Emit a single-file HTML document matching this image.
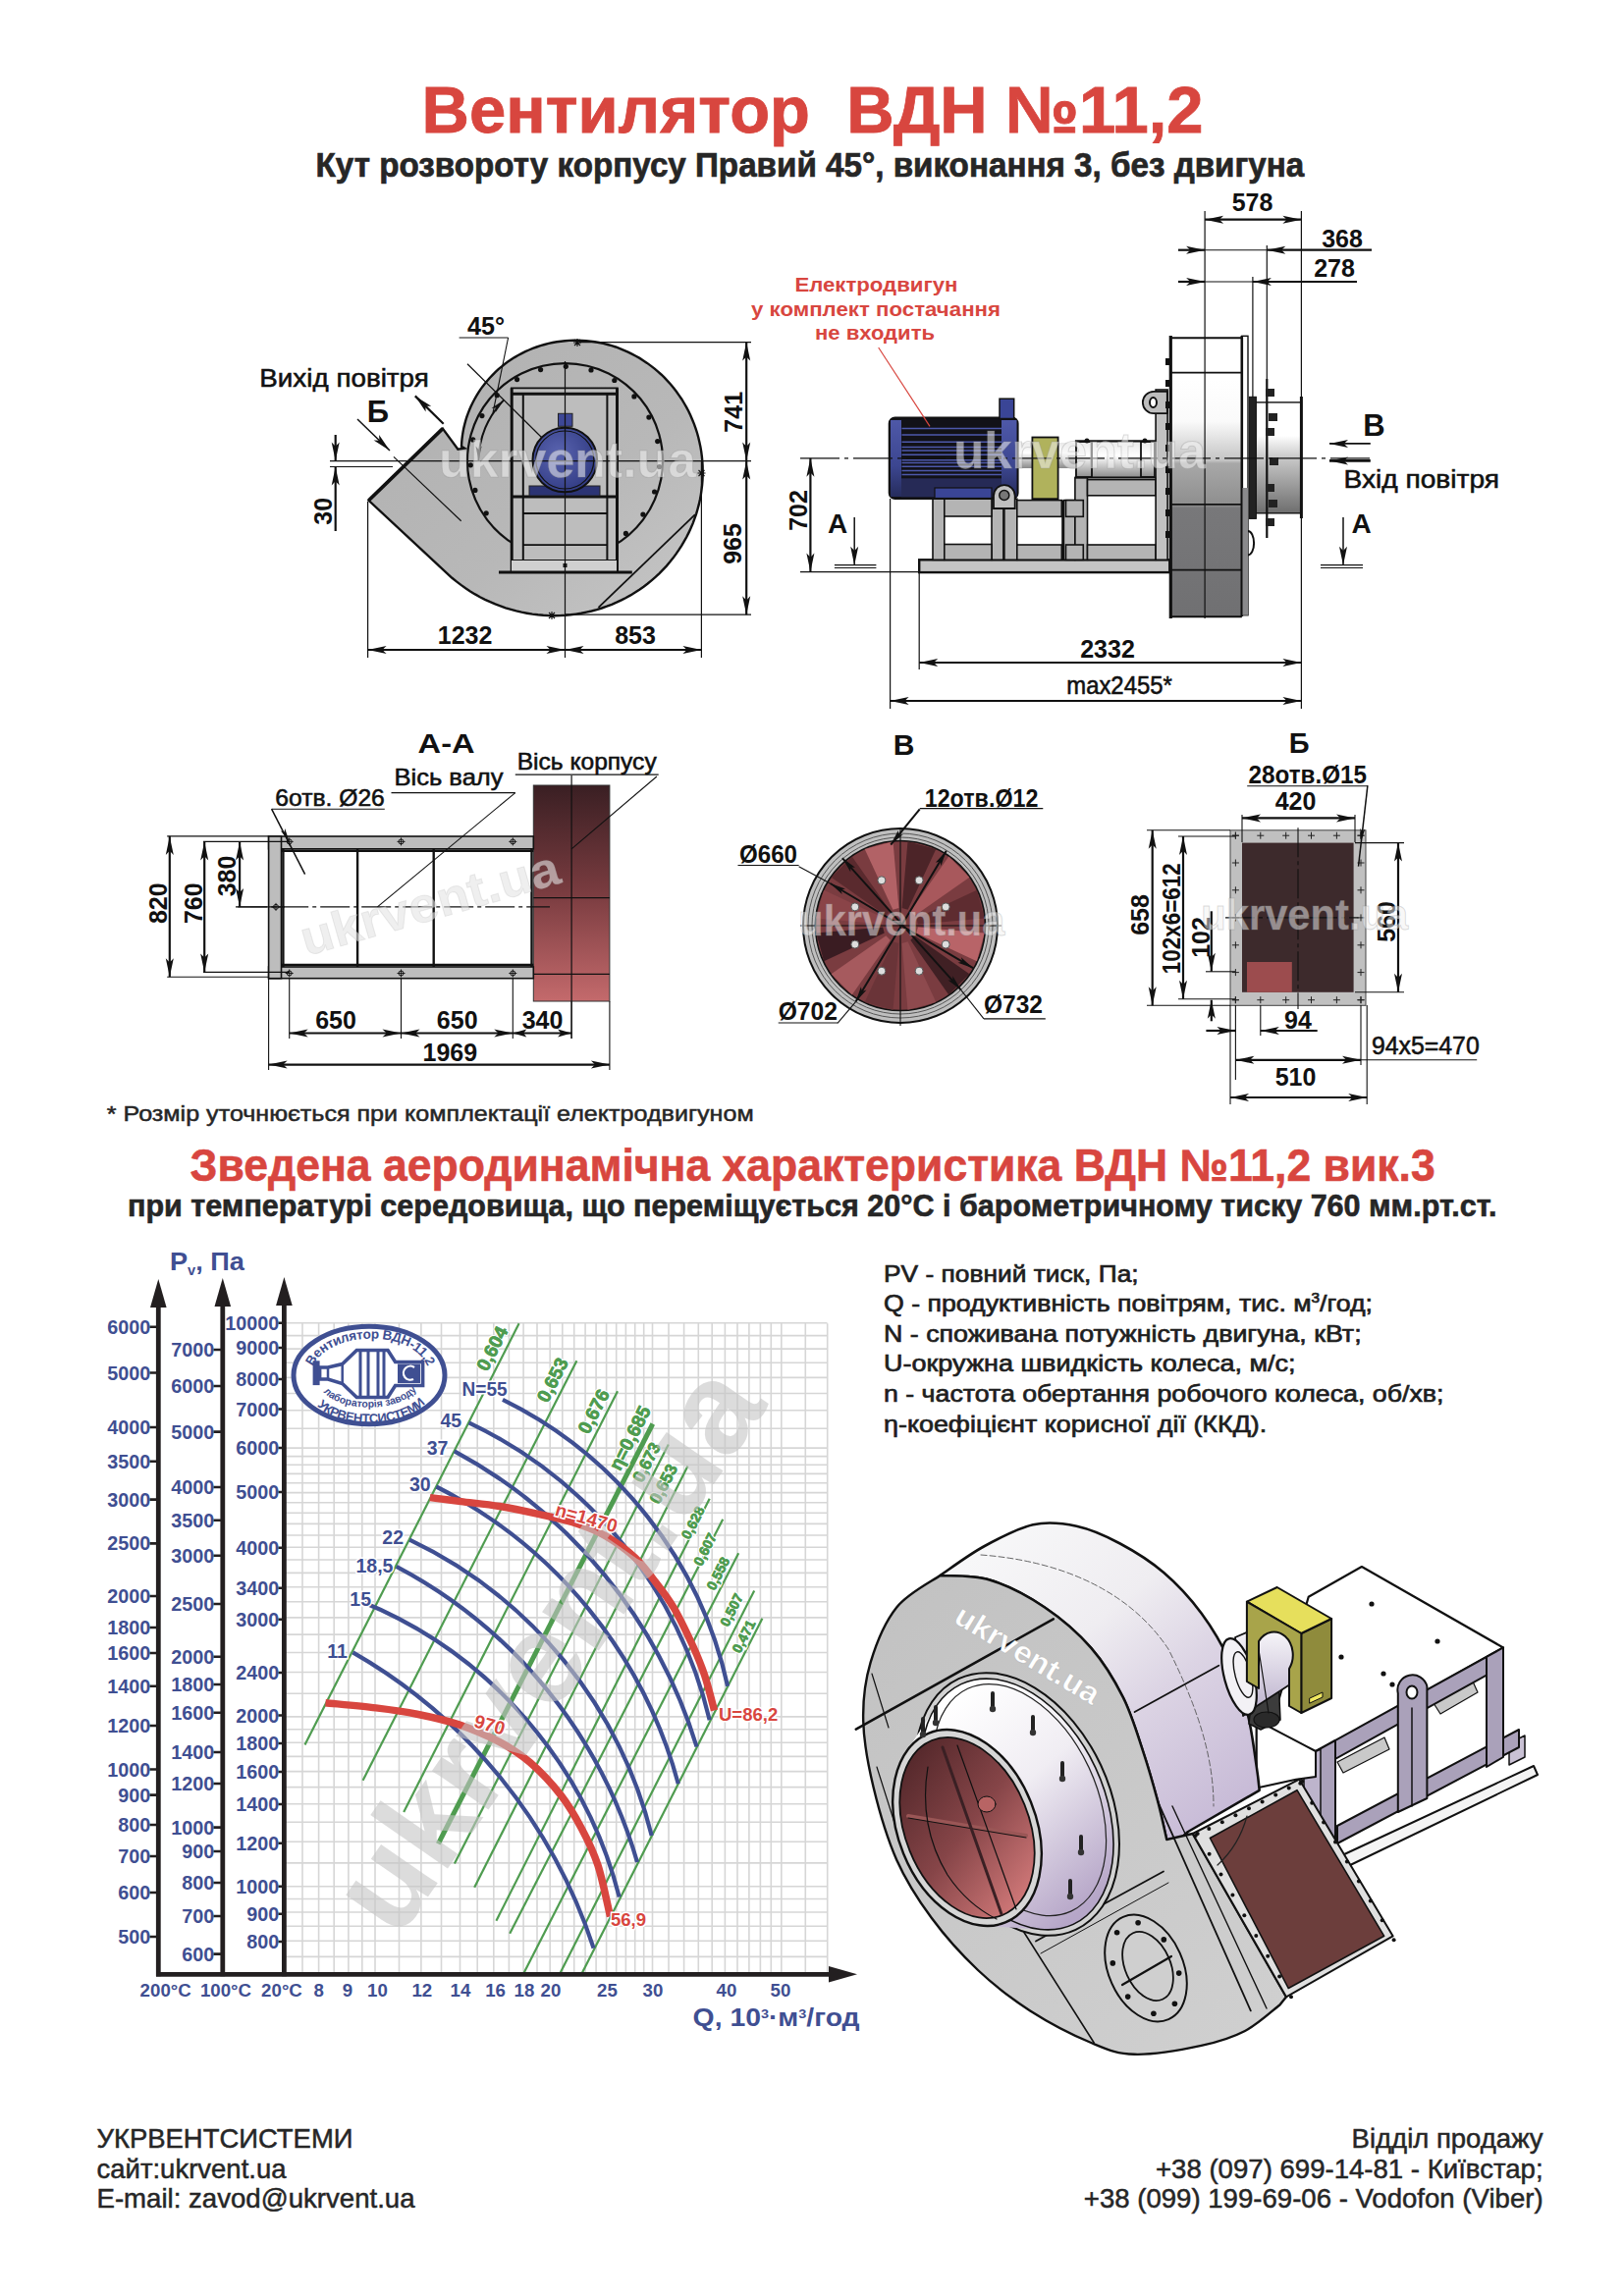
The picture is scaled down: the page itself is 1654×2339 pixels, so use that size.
<!DOCTYPE html>
<html><head><meta charset="utf-8"><title>ВДН №11,2</title>
<style>html,body{margin:0;padding:0;background:#fff;overflow:hidden;width:1654px;height:2339px;} svg{display:block;font-family:"Liberation Sans", sans-serif;}</style>
</head><body>
<svg width="1654" height="2339" viewBox="0 0 1654 2339">
<rect width="1654" height="2339" fill="#fff"/>
<g id="r3d" stroke-linejoin="round" stroke-linecap="round">
<defs>
<linearGradient id="gSide" gradientUnits="userSpaceOnUse" x1="1010" y1="1570" x2="1250" y2="1860"><stop offset="0" stop-color="#f7f7f8"/><stop offset="0.35" stop-color="#efedf1"/><stop offset="0.6" stop-color="#dcd4e4"/><stop offset="1" stop-color="#c6b9d6"/></linearGradient>
<linearGradient id="gFace" gradientUnits="userSpaceOnUse" x1="900" y1="1620" x2="1250" y2="2080"><stop offset="0" stop-color="#c2c2c2"/><stop offset="1" stop-color="#cfcfcf"/></linearGradient>
<linearGradient id="gCyl" gradientUnits="userSpaceOnUse" x1="960" y1="1740" x2="1120" y2="1930"><stop offset="0" stop-color="#ffffff"/><stop offset="0.45" stop-color="#f0edf3"/><stop offset="1" stop-color="#b6a6c8"/></linearGradient>
<linearGradient id="gInR" gradientUnits="userSpaceOnUse" x1="930" y1="1780" x2="1030" y2="1950"><stop offset="0" stop-color="#512629"/><stop offset="0.5" stop-color="#864548"/><stop offset="1" stop-color="#d67c7c"/></linearGradient>
<linearGradient id="gShaft3" x1="0" y1="0" x2="0" y2="1"><stop offset="0" stop-color="#ffffff"/><stop offset="1" stop-color="#b9aecb"/></linearGradient>
</defs>
<path d="M1367.0,1890.0 L1562.0,1799.0 L1566.0,1808.0 L1371.0,1902.0 Z" fill="#f4f4f4" stroke="#111" stroke-width="2"/>
<path d="M1537.0,1776.0 L1553.0,1768.0 L1553.0,1790.0 L1537.0,1798.0 Z" fill="#c9c1d4" stroke="#111" stroke-width="1.5"/>
<path d="M1460.0,1735.0 L1500.0,1713.0 L1505.0,1724.0 L1467.0,1746.0 Z" fill="#c9c9c9" stroke="#111" stroke-width="1.2"/>
<path d="M1362.0,1795.0 L1410.0,1770.0 L1415.0,1782.0 L1368.0,1806.0 Z" fill="#c9c9c9" stroke="#111" stroke-width="1.2"/>
<path d="M1332.7,1626.8 L1386.9,1596.0 L1531.0,1678.5 L1343.8,1784.0 L1279.8,1796.7 L1279.8,1752.4 L1300.0,1740.0 Z" fill="#ffffff" stroke="#111" stroke-width="2.2"/>
<path d="M1362.0,1860.0 L1547.0,1762.0 L1547.0,1780.0 L1362.0,1878.0 Z" fill="#aaa1ba" stroke="#111" stroke-width="2"/>
<path d="M1340.0,1784.0 L1531.0,1678.5 L1531.0,1697.0 L1340.0,1803.0 Z" fill="#aaa1ba" stroke="#111" stroke-width="2"/>
<path d="M1514.0,1688.0 L1531.0,1678.5 L1531.0,1790.0 L1514.0,1800.0 Z" fill="#aaa1ba" stroke="#111" stroke-width="2"/>
<path d="M1340.0,1784.0 L1360.0,1773.0 L1360.0,1880.0 L1340.0,1890.0 Z" fill="#aaa1ba" stroke="#111" stroke-width="2"/>
<path d="M1328.0,1790.0 L1345.0,1782.0 L1345.0,1880.0 L1328.0,1890.0 Z" fill="#bdb4cc" stroke="#111" stroke-width="1.5"/>
<path d="M1423.8,1846 V1725 A14.8,14.8 0 0 1 1453.4,1718 V1832 Z" fill="#aaa1ba" stroke="#111" stroke-width="2"/>
<ellipse cx="1438" cy="1724" rx="5.5" ry="6.5" fill="#fff" stroke="#111" stroke-width="2"/>
<line x1="1438.0" y1="1740.0" x2="1438.0" y2="1840.0" stroke="#111" stroke-width="1.5"/>
<circle cx="1397" cy="1634" r="2.6" fill="#111"/><circle cx="1464" cy="1672" r="2.6" fill="#111"/><circle cx="1409" cy="1705" r="2.6" fill="#111"/><circle cx="1418" cy="1716" r="2.6" fill="#111"/><circle cx="1366" cy="1688" r="2.6" fill="#111"/>
<path d="M1279.8,1752.4 L1340.0,1784.0 L1340.0,1810.0 L1320.0,1812.7 L1279.8,1821.4 Z" fill="#ffffff" stroke="#111" stroke-width="2"/>
<path d="M957.5,1605.0 C964.9,1600.1 986.1,1584.1 1001.9,1575.5 C1017.7,1566.9 1036.3,1556.8 1052.1,1553.3 C1067.9,1549.8 1081.7,1551.6 1096.5,1554.8 C1111.3,1558.0 1126.0,1564.6 1140.8,1572.5 C1155.6,1580.4 1171.4,1590.2 1185.2,1602.0 C1199.0,1613.8 1212.3,1628.2 1223.6,1643.5 C1234.9,1658.8 1245.2,1676.5 1253.1,1693.7 C1261.0,1711.0 1266.5,1729.3 1270.9,1747.0 C1275.4,1764.7 1277.8,1787.3 1279.8,1800.1 C1281.8,1812.9 1282.2,1819.8 1282.7,1823.8 L1210,1866 Q1196,1880 1188.2,1874 L1188.2,1874.0 C1186.7,1867.6 1183.2,1850.4 1179.3,1835.6 C1175.3,1820.8 1170.4,1803.0 1164.5,1785.3 C1158.6,1767.6 1152.7,1746.9 1143.8,1729.2 C1134.9,1711.5 1124.6,1694.2 1111.3,1678.9 C1098.0,1663.6 1081.2,1649.1 1064.0,1637.5 C1046.8,1625.9 1025.5,1614.9 1007.8,1609.5 C990.0,1604.1 965.9,1605.8 957.5,1605.0 Z" fill="url(#gSide)" stroke="#111" stroke-width="2.6"/>
<path d="M999,1584 C1080,1590 1150,1620 1190,1680 C1220,1740 1236,1790 1236,1840" fill="none" stroke="#555" stroke-width="0.9" stroke-dasharray="6,3"/>
<line x1="1155.6" y1="1744.0" x2="1241.3" y2="1696.7" stroke="#111" stroke-width="1.8"/>
<path d="M1276.0,1718.0 L1302.0,1708.0 L1304.0,1752.0 L1284.0,1762.0 L1272.0,1756.0 Z" fill="#3c3c3c" stroke="#111" stroke-width="1.5"/>
<ellipse cx="1290" cy="1752" rx="13" ry="8" fill="#2a2a2a" stroke="#111" stroke-width="1.2"/>
<path d="M1258,1668 L1300,1650 L1322,1668 L1320,1712 L1280,1738 L1266,1748 Z" fill="url(#gShaft3)" stroke="#111" stroke-width="1.8"/>
<ellipse cx="1262" cy="1708" rx="15" ry="40" transform="rotate(-15 1262 1708)" fill="#f3f1f5" stroke="#111" stroke-width="2.2"/>
<ellipse cx="1266" cy="1706" rx="8" ry="24" transform="rotate(-15 1266 1706)" fill="none" stroke="#111" stroke-width="1.4"/>
<line x1="1280.0" y1="1668.0" x2="1292.0" y2="1745.0" stroke="#111" stroke-width="1.2"/>
<path d="M1325.3,1664.0 L1356.1,1649.0 L1356.1,1730.0 L1325.3,1745.0 Z" fill="#8f8b3c" stroke="#111" stroke-width="2"/>
<path d="M1269.9,1631.7 L1300.7,1617.0 L1356.1,1649.0 L1325.3,1664.0 Z" fill="#e6df5c" stroke="#111" stroke-width="2"/>
<path d="M1269.9,1631.7 L1325.3,1664 V1745 L1313,1738 V1700 A18,22 0 0 0 1282,1672 V1720 L1269.9,1713 Z" fill="#a8a44a" stroke="#111" stroke-width="2"/>
<path d="M1334.0,1730.0 L1347.0,1724.0 L1347.0,1729.0 L1334.0,1735.0 Z" fill="#f0e860" stroke="#111" stroke-width="1"/>
<path d="M957.5,1605.0 C950.1,1610.4 925.0,1622.7 913.2,1637.5 C901.4,1652.3 892.3,1674.5 886.6,1693.7 C880.9,1712.9 878.7,1731.6 879.2,1752.8 C879.7,1774.0 883.9,1797.1 889.6,1820.8 C895.3,1844.5 903.4,1872.5 913.2,1894.7 C923.1,1916.9 934.9,1935.1 948.7,1953.8 C962.5,1972.5 979.2,1991.2 996.0,2007.0 C1012.8,2022.8 1030.0,2036.1 1049.2,2048.4 C1068.4,2060.7 1093.6,2073.6 1111.3,2081.0 C1129.0,2088.4 1136.9,2092.3 1155.6,2092.8 C1174.3,2093.3 1204.9,2087.9 1223.6,2083.9 C1242.3,2079.9 1254.7,2075.9 1268.0,2069.0 C1281.3,2062.1 1297.5,2046.9 1303.4,2042.5 L1310,2034.3 L1214.7,1868 L1188.2,1874 L1188.2,1874.0 C1186.7,1867.6 1183.2,1850.4 1179.3,1835.6 C1175.3,1820.8 1170.4,1803.0 1164.5,1785.3 C1158.6,1767.6 1152.7,1746.9 1143.8,1729.2 C1134.9,1711.5 1124.6,1694.2 1111.3,1678.9 C1098.0,1663.6 1081.2,1649.1 1064.0,1637.5 C1046.8,1625.9 1025.5,1614.9 1007.8,1609.5 C990.0,1604.1 965.9,1605.8 957.5,1605.0 Z" fill="url(#gFace)" stroke="#111" stroke-width="2.4"/>
<path d="M1214.7,1868.0 L1323.3,1812.7 L1418.6,1972.3 L1310.0,2034.3 Z" fill="#e0e0e0" stroke="#111" stroke-width="2"/>
<path d="M1232.4,1872.5 L1321.0,1823.7 L1409.7,1972.3 L1312.2,2025.5 Z" fill="#6c3e3c" stroke="#111" stroke-width="1.6"/>
<path d="M1240,1900 Q1262,1880 1270,1850" fill="none" stroke="#222" stroke-width="1.2"/>
<g fill="#111"><circle cx="1217.7" cy="1870.0" r="2"/><circle cx="1219.7" cy="1868.0" r="2"/><circle cx="1324.3" cy="1816.7" r="2"/><circle cx="1231.3" cy="1863.1" r="2"/><circle cx="1231.6" cy="1888.8" r="2"/><circle cx="1336.2" cy="1836.7" r="2"/><circle cx="1244.8" cy="1856.2" r="2"/><circle cx="1243.5" cy="1909.6" r="2"/><circle cx="1348.1" cy="1856.6" r="2"/><circle cx="1258.4" cy="1849.3" r="2"/><circle cx="1255.4" cy="1930.4" r="2"/><circle cx="1360.0" cy="1876.5" r="2"/><circle cx="1272.0" cy="1842.3" r="2"/><circle cx="1267.3" cy="1951.2" r="2"/><circle cx="1371.9" cy="1896.5" r="2"/><circle cx="1285.6" cy="1835.4" r="2"/><circle cx="1279.3" cy="1971.9" r="2"/><circle cx="1383.9" cy="1916.5" r="2"/><circle cx="1299.2" cy="1828.5" r="2"/><circle cx="1291.2" cy="1992.7" r="2"/><circle cx="1395.8" cy="1936.4" r="2"/><circle cx="1312.7" cy="1821.6" r="2"/><circle cx="1303.1" cy="2013.5" r="2"/><circle cx="1407.7" cy="1956.3" r="2"/><circle cx="1326.3" cy="1814.7" r="2"/><circle cx="1315.0" cy="2034.3" r="2"/><circle cx="1419.6" cy="1976.3" r="2"/></g>
<line x1="871.8" y1="1761.7" x2="1072.8" y2="1649.4" stroke="#111" stroke-width="2.6"/>
<line x1="1179.3" y1="1835.6" x2="1273.8" y2="2048.4" stroke="#111" stroke-width="1.8"/>
<line x1="1194.0" y1="1840.0" x2="1290.0" y2="2046.0" stroke="#111" stroke-width="1.4"/>
<line x1="1037.4" y1="1959.7" x2="1114.2" y2="2081.0" stroke="#111" stroke-width="1.6"/>
<line x1="1055.0" y1="1977.5" x2="1185.0" y2="1906.5" stroke="#111" stroke-width="1.8"/>
<line x1="1060.0" y1="1990.0" x2="1190.0" y2="1918.0" stroke="#111" stroke-width="1.0"/>
<line x1="888.0" y1="1705.0" x2="905.0" y2="1760.0" stroke="#111" stroke-width="1.2"/>
<line x1="893.0" y1="1800.0" x2="912.0" y2="1860.0" stroke="#111" stroke-width="1.2"/>
<ellipse cx="1167" cy="2005" rx="38" ry="57" transform="rotate(-24 1167 2005)" fill="#cfcfcf" stroke="#111" stroke-width="2"/>
<ellipse cx="1169" cy="2003" rx="23" ry="37" transform="rotate(-24 1169 2003)" fill="none" stroke="#111" stroke-width="1.8"/>
<line x1="1143.0" y1="2022.0" x2="1193.0" y2="1993.0" stroke="#111" stroke-width="2.2"/>
<circle cx="1200.7" cy="2010.1" r="2.8" fill="#111"/><circle cx="1196.4" cy="2041.3" r="2.8" fill="#111"/><circle cx="1174.9" cy="2051.2" r="2.8" fill="#111"/><circle cx="1148.7" cy="2034.1" r="2.8" fill="#111"/><circle cx="1133.3" cy="1999.9" r="2.8" fill="#111"/><circle cx="1137.6" cy="1968.7" r="2.8" fill="#111"/><circle cx="1159.1" cy="1958.8" r="2.8" fill="#111"/><circle cx="1185.3" cy="1975.9" r="2.8" fill="#111"/>
<ellipse cx="1036" cy="1838" rx="94" ry="141" transform="rotate(-25 1036 1838)" fill="#d2d2d2" stroke="#111" stroke-width="2"/>
<path d="M909.3,1836.5 L909.5,1828.2 L910.2,1820.1 L911.6,1812.4 L913.4,1805.0 L915.9,1798.1 L918.8,1791.6 L922.3,1785.7 L955.1,1735.7 L960.2,1729.4 L966.0,1724.0 L972.2,1719.4 L978.9,1715.6 L986.1,1712.9 L993.7,1711.0 L1001.5,1710.2 L1009.7,1710.3 L1018.0,1711.4 L1026.5,1713.4 L1035.0,1716.4 L1043.6,1720.4 L1052.1,1725.2 L1060.4,1730.9 L1068.6,1737.4 L1076.5,1744.6 L1084.2,1752.6 L1091.4,1761.2 L1098.3,1770.4 L1104.6,1780.1 L1110.5,1790.3 L1115.8,1800.8 L1120.4,1811.6 L1124.5,1822.6 L1127.8,1833.7 L1130.5,1844.9 L1132.4,1856.0 L1133.6,1867.0 L1134.1,1877.7 L1133.8,1888.2 L1132.7,1898.2 L1131.0,1907.8 L1128.5,1916.9 L1125.3,1925.4 L1121.4,1933.2 L1116.9,1940.3 L1111.8,1946.6 L1106.0,1952.0 L1099.8,1956.6 L1093.1,1960.4 L1085.9,1963.1 L1078.3,1965.0 L1070.5,1965.8 L1062.3,1965.7 L999.4,1961.6 L992.9,1960.5 L986.3,1958.6 L979.7,1956.0 L973.1,1952.7 L966.7,1948.7 L960.3,1944.1 L954.2,1938.8 L948.3,1932.9 L942.6,1926.5 L937.3,1919.6 L932.4,1912.3 L927.8,1904.6 L923.7,1896.5 L920.1,1888.2 L916.9,1879.7 L914.3,1871.1 L912.2,1862.4 L910.7,1853.7 L909.7,1845.0 Z" fill="url(#gCyl)" stroke="none" stroke-width="0"/>
<ellipse cx="1036" cy="1838" rx="88" ry="135" transform="rotate(-25 1036 1838)" fill="none" stroke="#111" stroke-width="1.6"/>
<ellipse cx="1040" cy="1835" rx="78" ry="125" transform="rotate(-25 1036 1838)" fill="none" stroke="#222" stroke-width="1.2"/>
<ellipse cx="985" cy="1862" rx="70" ry="104" transform="rotate(-22 985 1862)" fill="#d6d6d6" stroke="#111" stroke-width="2.4"/>
<ellipse cx="985" cy="1862" rx="63" ry="96" transform="rotate(-22 985 1862)" fill="url(#gInR)" stroke="#111" stroke-width="1.8"/>
<line x1="925.0" y1="1850.0" x2="1045.0" y2="1870.0" stroke="#9a5656" stroke-width="4"/>
<line x1="925.0" y1="1852.0" x2="1045.0" y2="1872.0" stroke="#111" stroke-width="1.0"/>
<line x1="960.0" y1="1780.0" x2="1020.0" y2="1950.0" stroke="#3a2024" stroke-width="3"/>
<line x1="975.0" y1="1778.0" x2="1035.0" y2="1945.0" stroke="#111" stroke-width="1.2"/>
<ellipse cx="1005" cy="1838" rx="9" ry="8" fill="#b86464" stroke="#111" stroke-width="1"/>
<path d="M945,1800 Q935,1860 965,1910 Q985,1940 1015,1955" fill="none" stroke="#111" stroke-width="1.2"/>
<path d="M1011,1725 v15" stroke="#222" stroke-width="4"/><circle cx="1011" cy="1741" r="3.2" fill="#333"/><path d="M1052,1749 v15" stroke="#222" stroke-width="4"/><circle cx="1052" cy="1765" r="3.2" fill="#333"/><path d="M1082,1796 v15" stroke="#222" stroke-width="4"/><circle cx="1082" cy="1812" r="3.2" fill="#333"/><path d="M1101,1871 v15" stroke="#222" stroke-width="4"/><circle cx="1101" cy="1887" r="3.2" fill="#333"/><path d="M1090,1916 v15" stroke="#222" stroke-width="4"/><circle cx="1090" cy="1932" r="3.2" fill="#333"/><path d="M953,1739 v15" stroke="#222" stroke-width="4"/><circle cx="953" cy="1755" r="3.2" fill="#333"/><path d="M940,1751 v15" stroke="#222" stroke-width="4"/><circle cx="940" cy="1767" r="3.2" fill="#333"/>
<text x="0" y="0" font-size="31" font-weight="bold" fill="#ffffff" stroke="#999" stroke-width="0.6" stroke-opacity="0.5" transform="translate(970,1652) rotate(31)" textLength="166" lengthAdjust="spacingAndGlyphs">ukrvent.ua</text>
</g>
<g id="front">
<defs><linearGradient id="gCas" x1="0" y1="0" x2="1" y2="1"><stop offset="0" stop-color="#b0b0b0"/><stop offset="0.6" stop-color="#b8b8b8"/><stop offset="1" stop-color="#c6c6c6"/></linearGradient></defs>
<path d="M450.9,436.6 L466.4,457.7 L473.0,456.6 L470.0,454.8 L470.2,451.0 L470.5,447.3 L471.0,443.5 L471.6,439.8 L472.3,436.1 L473.2,432.4 L474.2,428.7 L475.3,425.0 L476.6,421.4 L478.0,417.8 L479.5,414.2 L481.2,410.7 L483.0,407.2 L484.9,403.8 L487.0,400.4 L489.1,397.1 L491.4,393.9 L493.9,390.8 L496.4,387.7 L499.0,384.7 L501.8,381.8 L504.7,378.9 L507.6,376.2 L510.7,373.6 L513.9,371.0 L517.2,368.6 L520.6,366.3 L524.0,364.1 L527.6,362.0 L531.2,360.1 L535.0,358.2 L538.8,356.5 L542.6,354.9 L546.5,353.5 L550.5,352.1 L554.6,351.0 L558.7,349.9 L562.8,349.0 L567.0,348.3 L571.2,347.7 L575.5,347.2 L579.8,346.9 L584.1,346.7 L588.4,346.7 L592.7,346.9 L597.1,347.2 L601.4,347.6 L605.8,348.2 L610.1,349.0 L614.4,349.9 L618.7,351.0 L622.9,352.2 L627.2,353.5 L631.4,355.1 L635.5,356.8 L639.6,358.6 L643.6,360.6 L647.6,362.7 L651.5,364.9 L655.4,367.4 L659.1,369.9 L662.8,372.6 L666.4,375.4 L669.9,378.4 L673.4,381.5 L676.7,384.7 L679.9,388.1 L683.0,391.5 L685.9,395.1 L688.8,398.8 L691.5,402.6 L694.2,406.5 L696.6,410.5 L699.0,414.6 L701.2,418.8 L703.2,423.1 L705.1,427.5 L706.9,431.9 L708.5,436.4 L710.0,441.0 L711.3,445.7 L712.4,450.4 L713.4,455.1 L714.2,459.9 L714.8,464.7 L715.3,469.6 L715.6,474.5 L715.7,479.4 L715.7,484.3 L715.5,489.3 L715.1,494.2 L714.5,499.1 L713.8,504.1 L712.9,509.0 L711.8,513.9 L710.5,518.7 L709.1,523.6 L707.4,528.3 L705.7,533.1 L703.7,537.8 L701.6,542.4 L699.3,547.0 L696.8,551.4 L694.2,555.9 L691.4,560.2 L688.5,564.4 L685.4,568.6 L682.2,572.6 L678.8,576.6 L675.2,580.4 L671.6,584.1 L667.8,587.7 L663.8,591.1 L659.7,594.5 L655.5,597.7 L651.2,600.7 L646.8,603.6 L642.2,606.4 L637.5,609.0 L632.8,611.4 L627.9,613.7 L623.0,615.8 L618.0,617.7 L612.9,619.5 L607.7,621.1 L602.5,622.5 L597.2,623.7 L591.8,624.8 L586.4,625.6 L581.0,626.3 L575.5,626.8 L570.0,627.1 L564.5,627.2 L558.9,627.1 L553.4,626.8 L547.9,626.3 L542.3,625.6 L536.8,624.7 L531.3,623.7 L525.9,622.4 L520.4,620.9 L515.0,619.3 L509.7,617.4 L504.4,615.4 L499.2,613.2 L494.0,610.8 L488.9,608.2 L483.9,605.4 L479.0,602.4 L474.2,599.3 L469.5,595.9 L464.9,592.4 L460.4,588.8 L375.5,509.8 Z" fill="url(#gCas)" stroke="#111" stroke-width="2.4"/>
<line x1="375.5" y1="509.8" x2="450.9" y2="436.6" stroke="#111" stroke-width="3.6"/>
<line x1="609.5" y1="618.8" x2="708.0" y2="524.2" stroke="#111" stroke-width="1.8"/>
<path d="M527.3,556.6 A99.5,99.5 0 1 1 623.7,556.6" fill="none" stroke="#111" stroke-width="2.2"/>
<g fill="#111"><circle cx="539.4" cy="558.9" r="2.6"/><circle cx="564.6" cy="565.3" r="2.6"/><circle cx="590.6" cy="564.7" r="2.6"/><circle cx="615.4" cy="557.2" r="2.6"/><circle cx="637.4" cy="543.4" r="2.6"/><circle cx="654.9" cy="524.1" r="2.6"/><circle cx="666.6" cy="501.0" r="2.6"/><circle cx="671.6" cy="475.5" r="2.6"/><circle cx="669.7" cy="449.6" r="2.6"/><circle cx="660.9" cy="425.1" r="2.6"/><circle cx="645.9" cy="403.9" r="2.6"/><circle cx="625.8" cy="387.5" r="2.6"/><circle cx="602.0" cy="377.0" r="2.6"/><circle cx="576.3" cy="373.3" r="2.6"/><circle cx="550.6" cy="376.6" r="2.6"/><circle cx="526.6" cy="386.6" r="2.6"/><circle cx="506.2" cy="402.7" r="2.6"/><circle cx="490.9" cy="423.6" r="2.6"/><circle cx="481.7" cy="447.9" r="2.6"/><circle cx="479.3" cy="473.8" r="2.6"/><circle cx="483.9" cy="499.4" r="2.6"/><circle cx="495.2" cy="522.8" r="2.6"/></g>
<rect x="520.0" y="395.3" width="109.7" height="187.7" fill="#bdbdbd" stroke="none" stroke-width="1.5"/>
<line x1="520.0" y1="395.3" x2="629.7" y2="395.3" stroke="#111" stroke-width="1.8"/>
<line x1="520.0" y1="401.2" x2="629.7" y2="401.2" stroke="#111" stroke-width="3"/>
<line x1="521.2" y1="395.3" x2="521.2" y2="583.0" stroke="#111" stroke-width="3"/>
<line x1="628.5" y1="395.3" x2="628.5" y2="583.0" stroke="#111" stroke-width="3"/>
<line x1="532.8" y1="401.2" x2="532.8" y2="583.0" stroke="#111" stroke-width="2"/>
<line x1="618.4" y1="401.2" x2="618.4" y2="583.0" stroke="#111" stroke-width="2"/>
<line x1="520.0" y1="506.0" x2="629.7" y2="506.0" stroke="#111" stroke-width="3"/>
<line x1="532.8" y1="523.0" x2="618.4" y2="523.0" stroke="#111" stroke-width="1.8"/>
<line x1="532.8" y1="555.2" x2="618.4" y2="555.2" stroke="#111" stroke-width="1.8"/>
<line x1="520.0" y1="570.7" x2="629.7" y2="570.7" stroke="#111" stroke-width="1.6"/>
<rect x="521.0" y="571.0" width="107.0" height="12.0" fill="#d0d0d0" stroke="none" stroke-width="1.5"/>
<line x1="508.0" y1="583.0" x2="643.8" y2="583.0" stroke="#111" stroke-width="3"/>
<rect x="573.5" y="574" width="4" height="4" fill="#111"/>
<defs><radialGradient id="gMot" cx="0.4" cy="0.4" r="0.7"><stop offset="0" stop-color="#5a64b0"/><stop offset="1" stop-color="#2d377f"/></radialGradient></defs>
<rect x="568.5" y="421.3" width="14.5" height="13.0" fill="#3d4796" stroke="#222" stroke-width="1"/>
<rect x="539.0" y="495.0" width="72.0" height="10.0" fill="#2c3474" stroke="#222" stroke-width="1"/>
<circle cx="575.3" cy="468.5" r="32.8" fill="url(#gMot)" stroke="#111" stroke-width="2"/>
<circle cx="575.3" cy="468.5" r="29.5" fill="none" stroke="#111" stroke-width="1.2"/>
<line x1="575.5" y1="368.0" x2="575.5" y2="670.0" stroke="#111" stroke-width="1.2"/>
<line x1="336.0" y1="469.6" x2="765.0" y2="469.6" stroke="#111" stroke-width="1.2"/>
<line x1="336.0" y1="475.5" x2="400.0" y2="475.5" stroke="#111" stroke-width="1.2"/>
<line x1="476.0" y1="370.7" x2="552.0" y2="446.0" stroke="#111" stroke-width="1.2"/>
<line x1="401.0" y1="465.4" x2="469.7" y2="530.8" stroke="#111" stroke-width="1.2"/>
<line x1="590.0" y1="348.6" x2="765.0" y2="348.6" stroke="#111" stroke-width="1.2"/>
<line x1="575.5" y1="626.2" x2="765.0" y2="626.2" stroke="#111" stroke-width="1.2"/>
<line x1="374.6" y1="511.0" x2="374.6" y2="670.0" stroke="#111" stroke-width="1.2"/>
<line x1="714.4" y1="470.0" x2="714.4" y2="670.0" stroke="#111" stroke-width="1.2"/>
<line x1="760.2" y1="348.6" x2="760.2" y2="469.6" stroke="#111" stroke-width="2.2"/>
<path d="M760.2,469.6 L756.2,450.6 L760.2,454.8 L764.2,450.6 Z" fill="#111"/>
<path d="M760.2,348.6 L764.2,367.6 L760.2,363.4 L756.2,367.6 Z" fill="#111"/>
<line x1="760.2" y1="469.6" x2="760.2" y2="626.2" stroke="#111" stroke-width="2.2"/>
<path d="M760.2,626.2 L756.2,607.2 L760.2,611.4 L764.2,607.2 Z" fill="#111"/>
<path d="M760.2,469.6 L764.2,488.6 L760.2,484.4 L756.2,488.6 Z" fill="#111"/>
<text x="0" y="0" font-size="25" font-weight="bold" fill="#111" text-anchor="middle" transform="translate(755.5,419.8) rotate(-90)">741</text>
<text x="0" y="0" font-size="25" font-weight="bold" fill="#111" text-anchor="middle" transform="translate(755.0,554.0) rotate(-90)">965</text>
<line x1="374.6" y1="662.0" x2="575.5" y2="662.0" stroke="#111" stroke-width="2.2"/>
<path d="M575.5,662.0 L556.5,666.0 L560.7,662.0 L556.5,658.0 Z" fill="#111"/>
<path d="M374.6,662.0 L393.6,658.0 L389.4,662.0 L393.6,666.0 Z" fill="#111"/>
<line x1="575.5" y1="662.0" x2="714.4" y2="662.0" stroke="#111" stroke-width="2.2"/>
<path d="M714.4,662.0 L695.4,666.0 L699.6,662.0 L695.4,658.0 Z" fill="#111"/>
<path d="M575.5,662.0 L594.5,658.0 L590.3,662.0 L594.5,666.0 Z" fill="#111"/>
<text x="473.6" y="656.2" font-size="25" font-weight="bold" fill="#111" text-anchor="middle" style="white-space:pre">1232</text>
<text x="647" y="656.2" font-size="25" font-weight="bold" fill="#111" text-anchor="middle" style="white-space:pre">853</text>
<line x1="341.7" y1="443.0" x2="341.7" y2="469.6" stroke="#111" stroke-width="2.2"/>
<path d="M341.7,469.6 L337.7,450.6 L341.7,454.8 L345.7,450.6 Z" fill="#111"/>
<line x1="341.7" y1="541.0" x2="341.7" y2="475.5" stroke="#111" stroke-width="2.2"/>
<path d="M341.7,475.5 L345.7,494.5 L341.7,490.3 L337.7,494.5 Z" fill="#111"/>
<text x="0" y="0" font-size="25" font-weight="bold" fill="#111" text-anchor="middle" transform="translate(338.4,520.8) rotate(-90)">30</text>
<text x="264.3" y="393.8" font-size="26.5" fill="#111" textLength="172.5" lengthAdjust="spacingAndGlyphs" stroke="#111" stroke-width="0.55" style="white-space:pre">Вихід повітря</text>
<text x="384.8" y="430" font-size="31" font-weight="bold" fill="#111" text-anchor="middle" style="white-space:pre">Б</text>
<line x1="364.0" y1="427.0" x2="397.0" y2="459.0" stroke="#111" stroke-width="1.5"/>
<path d="M397.0,459.0 L380.6,448.6 L386.4,448.7 L386.1,442.9 Z" fill="#111"/>
<line x1="451.7" y1="431.7" x2="422.8" y2="403.4" stroke="#111" stroke-width="2.2"/>
<path d="M422.8,403.4 L439.2,413.8 L433.4,413.8 L433.6,419.5 Z" fill="#111"/>
<text x="495" y="340.5" font-size="25" font-weight="bold" fill="#111" text-anchor="middle" textLength="38" lengthAdjust="spacingAndGlyphs" style="white-space:pre">45°</text>
<path d="M513.3,407.4 A88,88 0 0 0 487.5,469.6" fill="none" stroke="#111" stroke-width="2"/>
<path d="M513.3,407.4 L504.8,420.1 L505.0,415.6 L500.5,415.9 Z" fill="#111"/>
<path d="M487.5,469.6 L484.5,454.6 L487.5,457.9 L490.5,454.6 Z" fill="#111"/>
<line x1="467.6" y1="344.0" x2="517.6" y2="344.0" stroke="#111" stroke-width="1.1"/>
<line x1="517.6" y1="344.0" x2="502.0" y2="420.7" stroke="#111" stroke-width="1.1"/>
<text x="0" y="0" font-size="52" font-weight="bold" text-anchor="middle" fill="#f2f2f2" fill-opacity="0.55" stroke="#8a8a8a" stroke-opacity="0.3" stroke-width="1" textLength="262" lengthAdjust="spacingAndGlyphs" transform="translate(578,485.6) rotate(0)">ukrvent.ua</text>
<path d="M584,349h8M588,345v8M585,346l6,6M585,352l6,-6" stroke="#111" stroke-width="1.1"/>
<path d="M710.5,482h8M714.5,478v8M711.5,479l6,6M711.5,485l6,-6" stroke="#111" stroke-width="1.1"/>
<path d="M558,627h8M562,623v8M559,624l6,6M559,630l6,-6" stroke="#111" stroke-width="1.1"/>
</g>
<g id="side">
<defs>
<linearGradient id="gCasS" x1="0" y1="0" x2="0" y2="1">
<stop offset="0" stop-color="#ffffff"/><stop offset="0.15" stop-color="#ffffff"/><stop offset="0.3" stop-color="#fafafa"/>
<stop offset="0.44" stop-color="#c4c4c4"/><stop offset="0.45" stop-color="#a8a8a8"/><stop offset="0.6" stop-color="#8e8e8e"/>
<stop offset="0.61" stop-color="#78787a"/><stop offset="1" stop-color="#707072"/></linearGradient>
<linearGradient id="gInl" x1="0" y1="0" x2="0" y2="1">
<stop offset="0" stop-color="#ffffff"/><stop offset="0.3" stop-color="#ffffff"/><stop offset="0.5" stop-color="#c8c8c8"/><stop offset="1" stop-color="#6e6e6e"/></linearGradient>
<linearGradient id="gShaft" x1="0" y1="0" x2="0" y2="1">
<stop offset="0" stop-color="#e8e8e8"/><stop offset="0.4" stop-color="#ffffff"/><stop offset="1" stop-color="#8a8a8a"/></linearGradient>
</defs>
<rect x="936.2" y="570.3" width="255.1" height="12.8" fill="#c4c4c4" stroke="#111" stroke-width="2.4"/>
<rect x="950.0" y="508.2" width="11.8" height="62.1" fill="#b4b4b4" stroke="#111" stroke-width="1.6"/>
<rect x="1010.0" y="508.2" width="11.9" height="62.1" fill="#b4b4b4" stroke="#111" stroke-width="1.6"/>
<rect x="1022.9" y="508.2" width="12.9" height="62.1" fill="#b4b4b4" stroke="#111" stroke-width="1.6"/>
<rect x="1083.4" y="509.6" width="11.5" height="60.7" fill="#b4b4b4" stroke="#111" stroke-width="1.6"/>
<rect x="1094.9" y="486.5" width="12.6" height="83.8" fill="#b4b4b4" stroke="#111" stroke-width="1.6"/>
<rect x="961.8" y="508.2" width="48.2" height="17.8" fill="#b4b4b4" stroke="#111" stroke-width="1.6"/>
<rect x="961.8" y="554.5" width="48.2" height="15.8" fill="#b4b4b4" stroke="#111" stroke-width="1.6"/>
<rect x="1035.8" y="509.6" width="45.5" height="16.7" fill="#b4b4b4" stroke="#111" stroke-width="1.6"/>
<rect x="1035.8" y="555.0" width="45.5" height="15.3" fill="#b4b4b4" stroke="#111" stroke-width="1.6"/>
<rect x="1085.5" y="509.6" width="17.8" height="16.7" fill="#b4b4b4" stroke="#111" stroke-width="1.6"/>
<rect x="1085.5" y="555.0" width="17.8" height="15.3" fill="#b4b4b4" stroke="#111" stroke-width="1.6"/>
<line x1="1082.3" y1="509.6" x2="1082.3" y2="570.3" stroke="#111" stroke-width="2.2"/>
<rect x="1107.5" y="488.6" width="69.6" height="16.2" fill="#b4b4b4" stroke="#111" stroke-width="1.6"/>
<rect x="1107.5" y="555.0" width="69.6" height="15.3" fill="#b4b4b4" stroke="#111" stroke-width="1.6"/>
<rect x="1177.1" y="397.0" width="12.0" height="173.3" fill="#c2c2c2" stroke="#111" stroke-width="1.6"/>
<path d="M1188.8,398.8 H1175 A11,11 0 0 0 1175,421.1 H1188.8 Z" fill="#bdbdbd" stroke="#111" stroke-width="1.8"/>
<ellipse cx="1174.5" cy="410" rx="3.5" ry="5" fill="#fff" stroke="#111" stroke-width="2"/>
<rect x="1187" y="365" width="5" height="7" fill="#111"/><rect x="1187" y="387" width="5" height="7" fill="#111"/><rect x="1187" y="409" width="5" height="7" fill="#111"/><rect x="1187" y="431" width="5" height="7" fill="#111"/><rect x="1187" y="453" width="5" height="7" fill="#111"/><rect x="1187" y="475" width="5" height="7" fill="#111"/><rect x="1187" y="497" width="5" height="7" fill="#111"/><rect x="1187" y="519" width="5" height="7" fill="#111"/><rect x="1187" y="541" width="5" height="7" fill="#111"/>
<rect x="1035.8" y="451.0" width="59.1" height="26.0" fill="url(#gShaft)" stroke="none" stroke-width="1.5"/>
<rect x="1094.9" y="449.4" width="82.2" height="37.1" fill="url(#gShaft)" stroke="none" stroke-width="1.5"/>
<line x1="1094.9" y1="449.4" x2="1177.1" y2="449.4" stroke="#111" stroke-width="2.2"/>
<line x1="1094.9" y1="486.5" x2="1177.1" y2="486.5" stroke="#111" stroke-width="2.2"/>
<rect x="1096.0" y="450.0" width="16.0" height="36.0" fill="none" stroke="#111" stroke-width="1.8"/>
<rect x="1162.0" y="450.0" width="14.0" height="36.0" fill="none" stroke="#111" stroke-width="1.8"/>
<circle cx="1107" cy="449" r="2.5" fill="#111"/><circle cx="1166" cy="449" r="2.5" fill="#111"/>
<rect x="1051.4" y="445.5" width="26.2" height="62.7" fill="#b0b25c" stroke="#111" stroke-width="1.8"/>
<rect x="905.6" y="425.5" width="131.1" height="82.7" rx="6" fill="#121218" stroke="#111" stroke-width="1.8"/>
<defs><linearGradient id="gCap" x1="0" y1="0" x2="0" y2="1"><stop offset="0" stop-color="#4e58a8"/><stop offset="0.6" stop-color="#3c4690"/><stop offset="1" stop-color="#262c5c"/></linearGradient></defs>
<rect x="907.0" y="428.0" width="11.0" height="78.0" fill="url(#gCap)" stroke="none" stroke-width="1.5"/>
<rect x="1020.0" y="428.0" width="15.5" height="78.0" fill="url(#gCap)" stroke="none" stroke-width="1.5"/>
<rect x="918.0" y="487.3" width="102.0" height="19.0" fill="#262a56" stroke="none" stroke-width="1.5"/>
<path d="M918.5,436.5H1020M918.5,443H1020M918.5,450.3H1020M918.5,455.4H1020M918.5,459.1H1020M918.5,463.2H1020M918.5,468.8H1020M918.5,471.6H1020M918.5,475.3H1020M918.5,479.4H1020M918.5,483.6H1020" stroke="#4d58aa" stroke-width="1.5"/>
<rect x="1018.0" y="406.2" width="14.7" height="20.3" fill="#3a4596" stroke="#111" stroke-width="1.5"/>
<rect x="952.0" y="497.0" width="58.0" height="10.5" fill="#3a4596" stroke="#111" stroke-width="1.2"/>
<path d="M1012,518 V505 A10.8,10.8 0 0 1 1033.7,505 V518 Z" fill="#c0c0c0" stroke="#111" stroke-width="1.8"/>
<circle cx="1022.8" cy="504.5" r="5" fill="#777" stroke="#111" stroke-width="1.5"/>
<rect x="1192.3" y="343.7" width="72.5" height="285.1" fill="url(#gCasS)" stroke="none" stroke-width="1.5"/>
<line x1="1192.3" y1="342.0" x2="1192.3" y2="630.0" stroke="#111" stroke-width="3.2"/>
<line x1="1264.8" y1="342.0" x2="1264.8" y2="628.0" stroke="#111" stroke-width="2.6"/>
<line x1="1192.3" y1="344.2" x2="1264.8" y2="344.2" stroke="#111" stroke-width="2"/>
<line x1="1192.3" y1="628.3" x2="1264.8" y2="628.3" stroke="#111" stroke-width="2"/>
<rect x="1264.8" y="342.3" width="6.2" height="284.4" fill="none" stroke="#111" stroke-width="1.4"/>
<rect x="1265.5" y="497.0" width="5.5" height="129.7" fill="#8a8a8c" stroke="none" stroke-width="1.5"/>
<line x1="1192.3" y1="379.7" x2="1264.8" y2="379.7" stroke="#111" stroke-width="1.8"/>
<line x1="1192.3" y1="513.8" x2="1264.8" y2="513.8" stroke="#111" stroke-width="1.8"/>
<line x1="1192.3" y1="580.7" x2="1264.8" y2="580.7" stroke="#111" stroke-width="1.8"/>
<line x1="1227.1" y1="215.0" x2="1227.1" y2="630.0" stroke="#111" stroke-width="1.2"/>
<rect x="1277.3" y="409.9" width="48.1" height="112.9" fill="url(#gInl)" stroke="#111" stroke-width="1.4"/>
<rect x="1272.4" y="404.3" width="7.0" height="124.1" fill="#222" stroke="#111" stroke-width="1"/>
<line x1="1325.4" y1="404.0" x2="1325.4" y2="528.0" stroke="#111" stroke-width="3"/>
<line x1="1290.3" y1="386.0" x2="1290.3" y2="548.0" stroke="#111" stroke-width="2.2"/>
<rect x="1289" y="396" width="9" height="8" fill="#222"/><rect x="1292" y="421" width="9" height="8" fill="#222"/><rect x="1289" y="436" width="9" height="8" fill="#222"/><rect x="1293" y="466" width="9" height="8" fill="#222"/><rect x="1289" y="493" width="9" height="8" fill="#222"/><rect x="1292" y="509" width="9" height="8" fill="#222"/><rect x="1289" y="528" width="9" height="8" fill="#222"/>
<path d="M1271,541 A6,12 0 0 1 1271,565.4" fill="none" stroke="#111" stroke-width="2"/>
<line x1="815.0" y1="466.8" x2="1400.0" y2="466.8" stroke="#111" stroke-width="1.2" stroke-dasharray="40,5,4,5"/>
<text x="0" y="0" font-size="52" font-weight="bold" text-anchor="middle" fill="#f2f2f2" fill-opacity="0.55" stroke="#8a8a8a" stroke-opacity="0.3" stroke-width="1" textLength="257" lengthAdjust="spacingAndGlyphs" transform="translate(1099.8,477.3) rotate(0)">ukrvent.ua</text>
<text x="892.4" y="297" font-size="20.5" font-weight="bold" fill="#d8463f" text-anchor="middle" textLength="166" lengthAdjust="spacingAndGlyphs" style="white-space:pre">Електродвигун</text>
<text x="892" y="321.6" font-size="20.5" font-weight="bold" fill="#d8463f" text-anchor="middle" textLength="254" lengthAdjust="spacingAndGlyphs" style="white-space:pre">у комплект постачання</text>
<text x="891" y="345.7" font-size="20.5" font-weight="bold" fill="#d8463f" text-anchor="middle" textLength="122" lengthAdjust="spacingAndGlyphs" style="white-space:pre">не входить</text>
<line x1="894.7" y1="354.0" x2="947.0" y2="434.3" stroke="#d8463f" stroke-width="1.2"/>
<line x1="1325.4" y1="215.0" x2="1325.4" y2="404.0" stroke="#111" stroke-width="1.2"/>
<line x1="1275.9" y1="282.0" x2="1275.9" y2="405.0" stroke="#111" stroke-width="1.2"/>
<line x1="1290.3" y1="250.0" x2="1290.3" y2="386.0" stroke="#111" stroke-width="1.2"/>
<line x1="1227.1" y1="223.7" x2="1325.4" y2="223.7" stroke="#111" stroke-width="2.2"/>
<path d="M1325.4,223.7 L1306.4,227.7 L1310.6,223.7 L1306.4,219.7 Z" fill="#111"/>
<path d="M1227.1,223.7 L1246.1,219.7 L1241.9,223.7 L1246.1,227.7 Z" fill="#111"/>
<text x="1275.5" y="214.5" font-size="25" font-weight="bold" fill="#111" text-anchor="middle" style="white-space:pre">578</text>
<line x1="1200.0" y1="254.7" x2="1227.1" y2="254.7" stroke="#111" stroke-width="2.2"/>
<path d="M1227.1,254.7 L1208.1,258.7 L1212.3,254.7 L1208.1,250.7 Z" fill="#111"/>
<line x1="1290.3" y1="254.7" x2="1397.0" y2="254.7" stroke="#111" stroke-width="2.2"/>
<path d="M1290.3,254.7 L1309.3,250.7 L1305.1,254.7 L1309.3,258.7 Z" fill="#111"/>
<line x1="1227.1" y1="254.7" x2="1290.3" y2="254.7" stroke="#111" stroke-width="1.1"/>
<text x="1367" y="252" font-size="25" font-weight="bold" fill="#111" text-anchor="middle" style="white-space:pre">368</text>
<line x1="1200.0" y1="287.0" x2="1227.1" y2="287.0" stroke="#111" stroke-width="2.2"/>
<path d="M1227.1,287.0 L1208.1,291.0 L1212.3,287.0 L1208.1,283.0 Z" fill="#111"/>
<line x1="1275.9" y1="287.0" x2="1382.0" y2="287.0" stroke="#111" stroke-width="2.2"/>
<path d="M1275.9,287.0 L1294.9,283.0 L1290.7,287.0 L1294.9,291.0 Z" fill="#111"/>
<line x1="1227.1" y1="287.0" x2="1275.9" y2="287.0" stroke="#111" stroke-width="1.1"/>
<text x="1359" y="282" font-size="25" font-weight="bold" fill="#111" text-anchor="middle" style="white-space:pre">278</text>
<line x1="815.0" y1="582.6" x2="936.2" y2="582.6" stroke="#111" stroke-width="1.2"/>
<line x1="825.4" y1="466.8" x2="825.4" y2="582.6" stroke="#111" stroke-width="2.2"/>
<path d="M825.4,582.6 L821.4,563.6 L825.4,567.8 L829.4,563.6 Z" fill="#111"/>
<path d="M825.4,466.8 L829.4,485.8 L825.4,481.6 L821.4,485.8 Z" fill="#111"/>
<text x="0" y="0" font-size="25" font-weight="bold" fill="#111" text-anchor="middle" transform="translate(821.7,520.0) rotate(-90)">702</text>
<line x1="906.6" y1="508.0" x2="906.6" y2="722.0" stroke="#111" stroke-width="1.2"/>
<line x1="936.2" y1="583.0" x2="936.2" y2="682.0" stroke="#111" stroke-width="1.2"/>
<line x1="1325.4" y1="528.0" x2="1325.4" y2="722.0" stroke="#111" stroke-width="1.2"/>
<line x1="936.2" y1="675.0" x2="1325.4" y2="675.0" stroke="#111" stroke-width="2.2"/>
<path d="M1325.4,675.0 L1306.4,679.0 L1310.6,675.0 L1306.4,671.0 Z" fill="#111"/>
<path d="M936.2,675.0 L955.2,671.0 L951.0,675.0 L955.2,679.0 Z" fill="#111"/>
<text x="1128" y="670" font-size="25" font-weight="bold" fill="#111" text-anchor="middle" style="white-space:pre">2332</text>
<line x1="906.6" y1="714.0" x2="1325.4" y2="714.0" stroke="#111" stroke-width="2.2"/>
<path d="M1325.4,714.0 L1306.4,718.0 L1310.6,714.0 L1306.4,710.0 Z" fill="#111"/>
<path d="M906.6,714.0 L925.6,710.0 L921.4,714.0 L925.6,718.0 Z" fill="#111"/>
<text x="1140" y="707.3" font-size="25" fill="#111" text-anchor="middle" textLength="107.5" lengthAdjust="spacingAndGlyphs" stroke="#111" stroke-width="0.55" style="white-space:pre">max2455*</text>
<text x="853" y="543.3" font-size="28" font-weight="bold" fill="#111" text-anchor="middle" style="white-space:pre">A</text>
<line x1="870.2" y1="527.0" x2="870.2" y2="575.7" stroke="#111" stroke-width="1.5"/>
<path d="M870.2,575.7 L866.2,556.7 L870.2,560.9 L874.2,556.7 Z" fill="#111"/>
<line x1="849.9" y1="575.7" x2="892.4" y2="575.7" stroke="#111" stroke-width="1.2"/>
<line x1="849.9" y1="578.5" x2="892.4" y2="578.5" stroke="#111" stroke-width="1.2"/>
<text x="1386.5" y="543.3" font-size="28" font-weight="bold" fill="#111" text-anchor="middle" style="white-space:pre">A</text>
<line x1="1368.0" y1="527.0" x2="1368.0" y2="575.7" stroke="#111" stroke-width="1.5"/>
<path d="M1368.0,575.7 L1364.0,556.7 L1368.0,560.9 L1372.0,556.7 Z" fill="#111"/>
<line x1="1345.0" y1="575.7" x2="1388.0" y2="575.7" stroke="#111" stroke-width="1.2"/>
<line x1="1345.0" y1="578.5" x2="1388.0" y2="578.5" stroke="#111" stroke-width="1.2"/>
<text x="1399.5" y="444" font-size="31" font-weight="bold" fill="#111" text-anchor="middle" style="white-space:pre">B</text>
<line x1="1354.0" y1="451.9" x2="1395.8" y2="451.9" stroke="#111" stroke-width="1.6"/>
<path d="M1354.0,451.9 L1373.0,447.9 L1368.8,451.9 L1373.0,455.9 Z" fill="#111"/>
<line x1="1354.0" y1="469.4" x2="1395.8" y2="469.4" stroke="#111" stroke-width="2.6"/>
<path d="M1354.0,469.4 L1373.0,465.4 L1368.8,469.4 L1373.0,473.4 Z" fill="#111"/>
<text x="1368.5" y="497.2" font-size="26.5" fill="#111" textLength="158.5" lengthAdjust="spacingAndGlyphs" stroke="#111" stroke-width="0.55" style="white-space:pre">Вхід повітря</text>
</g>
<g id="sections">
<defs><linearGradient id="gRed" x1="0" y1="0" x2="0" y2="1">
<stop offset="0" stop-color="#3a1f23"/><stop offset="0.5" stop-color="#7a3c40"/><stop offset="1" stop-color="#c46a6c"/></linearGradient>
<radialGradient id="gRedB" cx="0.5" cy="0.5" r="0.5"><stop offset="0" stop-color="#6a3034"/><stop offset="1" stop-color="#a85558"/></radialGradient></defs>
<text x="454.6" y="766.9" font-size="28.5" font-weight="bold" fill="#111" text-anchor="middle" textLength="58" lengthAdjust="spacingAndGlyphs" style="white-space:pre">A-A</text>
<rect x="543.3" y="800.0" width="77.6" height="220.0" fill="url(#gRed)" stroke="#333" stroke-width="1"/>
<line x1="543.3" y1="914.7" x2="620.9" y2="914.7" stroke="#111" stroke-width="1.2"/>
<line x1="543.3" y1="992.3" x2="620.9" y2="992.3" stroke="#111" stroke-width="1.2"/>
<line x1="582.1" y1="790.0" x2="582.1" y2="1058.0" stroke="#111" stroke-width="1.2"/>
<rect x="273.6" y="852.0" width="269.7" height="12.8" fill="#bdbdbd" stroke="#111" stroke-width="1.6"/>
<rect x="273.6" y="985.0" width="269.7" height="11.7" fill="#bdbdbd" stroke="#111" stroke-width="1.6"/>
<rect x="273.6" y="852.0" width="12.9" height="144.7" fill="#bdbdbd" stroke="#111" stroke-width="1.6"/>
<line x1="288.4" y1="865.0" x2="288.4" y2="985.0" stroke="#111" stroke-width="2.4"/>
<line x1="364.1" y1="865.0" x2="364.1" y2="985.0" stroke="#111" stroke-width="2.4"/>
<line x1="441.7" y1="865.0" x2="441.7" y2="985.0" stroke="#111" stroke-width="2.4"/>
<line x1="541.5" y1="865.0" x2="541.5" y2="985.0" stroke="#111" stroke-width="2.4"/>
<line x1="286.5" y1="866.7" x2="543.3" y2="866.7" stroke="#111" stroke-width="2.4"/>
<line x1="286.5" y1="983.0" x2="543.3" y2="983.0" stroke="#111" stroke-width="2.4"/>
<circle cx="294.7" cy="857.4" r="2.5" fill="none" stroke="#111" stroke-width="1"/><path d="M290.7,857.4h8M294.7,853.4v8" stroke="#111" stroke-width="0.9"/><circle cx="408.5" cy="857.4" r="2.5" fill="none" stroke="#111" stroke-width="1"/><path d="M404.5,857.4h8M408.5,853.4v8" stroke="#111" stroke-width="0.9"/><circle cx="522.3" cy="857.4" r="2.5" fill="none" stroke="#111" stroke-width="1"/><path d="M518.3,857.4h8M522.3,853.4v8" stroke="#111" stroke-width="0.9"/><circle cx="294.7" cy="991.5" r="2.5" fill="none" stroke="#111" stroke-width="1"/><path d="M290.7,991.5h8M294.7,987.5v8" stroke="#111" stroke-width="0.9"/><circle cx="408.5" cy="991.5" r="2.5" fill="none" stroke="#111" stroke-width="1"/><path d="M404.5,991.5h8M408.5,987.5v8" stroke="#111" stroke-width="0.9"/><circle cx="522.3" cy="991.5" r="2.5" fill="none" stroke="#111" stroke-width="1"/><path d="M518.3,991.5h8M522.3,987.5v8" stroke="#111" stroke-width="0.9"/><circle cx="281" cy="923.9" r="2.5" fill="none" stroke="#111" stroke-width="1"/><path d="M277,923.9h8M281,919.9v8" stroke="#111" stroke-width="0.9"/>
<line x1="242.2" y1="923.9" x2="560.0" y2="923.9" stroke="#111" stroke-width="1.1" stroke-dasharray="30,4,4,4"/>
<text x="526.7" y="783.6" font-size="24" fill="#111" textLength="142" lengthAdjust="spacingAndGlyphs" stroke="#111" stroke-width="0.55" style="white-space:pre">Вісь корпусу</text>
<line x1="524.8" y1="789.1" x2="670.7" y2="789.1" stroke="#111" stroke-width="1.1"/>
<line x1="668.9" y1="791.0" x2="582.1" y2="864.8" stroke="#111" stroke-width="1.1"/>
<text x="401.5" y="800.2" font-size="24" fill="#111" textLength="111" lengthAdjust="spacingAndGlyphs" stroke="#111" stroke-width="0.55" style="white-space:pre">Вісь валу</text>
<line x1="398.5" y1="807.6" x2="524.8" y2="807.6" stroke="#111" stroke-width="1.1"/>
<line x1="524.8" y1="807.6" x2="384.4" y2="923.9" stroke="#111" stroke-width="1.1"/>
<text x="280.3" y="820.5" font-size="24" fill="#111" textLength="111.5" lengthAdjust="spacingAndGlyphs" stroke="#111" stroke-width="0.55" style="white-space:pre">6отв. Ø26</text>
<line x1="276.6" y1="824.2" x2="391.8" y2="824.2" stroke="#111" stroke-width="1.1"/>
<line x1="276.6" y1="824.2" x2="310.6" y2="890.7" stroke="#111" stroke-width="1.5"/>
<path d="M294.7,857.4 L285.8,846.3 L289.5,847.8 L290.2,843.9 Z" fill="#111"/>
<line x1="170.2" y1="851.9" x2="273.6" y2="851.9" stroke="#111" stroke-width="1.1"/>
<line x1="170.2" y1="995.2" x2="273.6" y2="995.2" stroke="#111" stroke-width="1.1"/>
<line x1="207.0" y1="857.4" x2="294.7" y2="857.4" stroke="#111" stroke-width="1.1"/>
<line x1="207.0" y1="990.4" x2="294.7" y2="990.4" stroke="#111" stroke-width="1.1"/>
<line x1="240.0" y1="923.9" x2="290.0" y2="923.9" stroke="#111" stroke-width="1.1"/>
<line x1="172.8" y1="851.9" x2="172.8" y2="995.2" stroke="#111" stroke-width="2.2"/>
<path d="M172.8,995.2 L168.8,976.2 L172.8,980.4 L176.8,976.2 Z" fill="#111"/>
<path d="M172.8,851.9 L176.8,870.9 L172.8,866.7 L168.8,870.9 Z" fill="#111"/>
<line x1="208.2" y1="857.4" x2="208.2" y2="990.4" stroke="#111" stroke-width="2.2"/>
<path d="M208.2,990.4 L204.2,971.4 L208.2,975.6 L212.2,971.4 Z" fill="#111"/>
<path d="M208.2,857.4 L212.2,876.4 L208.2,872.2 L204.2,876.4 Z" fill="#111"/>
<line x1="244.1" y1="857.4" x2="244.1" y2="923.9" stroke="#111" stroke-width="2.2"/>
<path d="M244.1,923.9 L240.1,904.9 L244.1,909.1 L248.1,904.9 Z" fill="#111"/>
<path d="M244.1,857.4 L248.1,876.4 L244.1,872.2 L240.1,876.4 Z" fill="#111"/>
<text x="0" y="0" font-size="25" font-weight="bold" fill="#111" text-anchor="middle" transform="translate(169.9,920.2) rotate(-90)">820</text>
<text x="0" y="0" font-size="25" font-weight="bold" fill="#111" text-anchor="middle" transform="translate(205.8,920.2) rotate(-90)">760</text>
<text x="0" y="0" font-size="25" font-weight="bold" fill="#111" text-anchor="middle" transform="translate(240.0,892.5) rotate(-90)">380</text>
<line x1="273.6" y1="997.0" x2="273.6" y2="1090.0" stroke="#111" stroke-width="1.1"/>
<line x1="294.7" y1="997.0" x2="294.7" y2="1058.0" stroke="#111" stroke-width="1.1"/>
<line x1="408.5" y1="997.0" x2="408.5" y2="1058.0" stroke="#111" stroke-width="1.1"/>
<line x1="522.3" y1="997.0" x2="522.3" y2="1058.0" stroke="#111" stroke-width="1.1"/>
<line x1="582.1" y1="1020.0" x2="582.1" y2="1058.0" stroke="#111" stroke-width="1.1"/>
<line x1="620.9" y1="1020.0" x2="620.9" y2="1090.0" stroke="#111" stroke-width="1.1"/>
<line x1="294.7" y1="1052.5" x2="408.5" y2="1052.5" stroke="#111" stroke-width="2.2"/>
<path d="M408.5,1052.5 L389.5,1056.5 L393.7,1052.5 L389.5,1048.5 Z" fill="#111"/>
<path d="M294.7,1052.5 L313.7,1048.5 L309.5,1052.5 L313.7,1056.5 Z" fill="#111"/>
<line x1="408.5" y1="1052.5" x2="522.3" y2="1052.5" stroke="#111" stroke-width="2.2"/>
<path d="M522.3,1052.5 L503.3,1056.5 L507.5,1052.5 L503.3,1048.5 Z" fill="#111"/>
<path d="M408.5,1052.5 L427.5,1048.5 L423.3,1052.5 L427.5,1056.5 Z" fill="#111"/>
<line x1="522.3" y1="1052.5" x2="582.1" y2="1052.5" stroke="#111" stroke-width="2.2"/>
<path d="M582.1,1052.5 L568.1,1056.5 L571.2,1052.5 L568.1,1048.5 Z" fill="#111"/>
<path d="M522.3,1052.5 L536.3,1048.5 L533.2,1052.5 L536.3,1056.5 Z" fill="#111"/>
<text x="342" y="1047.5" font-size="25" font-weight="bold" fill="#111" text-anchor="middle" style="white-space:pre">650</text>
<text x="465.7" y="1047.5" font-size="25" font-weight="bold" fill="#111" text-anchor="middle" style="white-space:pre">650</text>
<text x="552.5" y="1047.5" font-size="25" font-weight="bold" fill="#111" text-anchor="middle" style="white-space:pre">340</text>
<line x1="273.6" y1="1084.6" x2="620.9" y2="1084.6" stroke="#111" stroke-width="2.2"/>
<path d="M620.9,1084.6 L601.9,1088.6 L606.1,1084.6 L601.9,1080.6 Z" fill="#111"/>
<path d="M273.6,1084.6 L292.6,1080.6 L288.4,1084.6 L292.6,1088.6 Z" fill="#111"/>
<text x="458.3" y="1080.5" font-size="25" font-weight="bold" fill="#111" text-anchor="middle" style="white-space:pre">1969</text>
<text x="0" y="0" font-size="50" font-weight="bold" text-anchor="middle" fill="#e4e4e4" fill-opacity="0.6" stroke="#8a8a8a" stroke-opacity="0.15" stroke-width="1" textLength="272" lengthAdjust="spacingAndGlyphs" transform="translate(442.5,936.5) rotate(-16)">ukrvent.ua</text>
<text x="920.7" y="769.4" font-size="30" font-weight="bold" fill="#111" text-anchor="middle" style="white-space:pre">B</text>
<circle cx="917" cy="943" r="99" fill="#bfbfbf" stroke="#111" stroke-width="2"/>
<circle cx="917" cy="943" r="94" fill="none" stroke="#555" stroke-width="1"/>
<circle cx="917" cy="943" r="90" fill="none" stroke="#555" stroke-width="1"/>
<circle cx="917" cy="943" r="86.5" fill="#7a3c40" stroke="#111" stroke-width="1.6"/>
<path d="M918.6,925.1 L924.5,857.3 L953.3,865.1 L924.6,926.7 Z" fill="#4c2428" stroke="none" stroke-width="0"/>
<path d="M927.3,928.3 L966.3,872.6 L987.4,893.7 L931.7,932.7 Z" fill="#a8585c" stroke="none" stroke-width="0"/>
<path d="M933.3,935.4 L994.9,906.7 L1002.7,935.5 L934.9,941.4 Z" fill="#5e2c30" stroke="none" stroke-width="0"/>
<path d="M934.9,944.6 L1002.7,950.5 L994.9,979.3 L933.3,950.6 Z" fill="#b86468" stroke="none" stroke-width="0"/>
<path d="M931.7,953.3 L987.4,992.3 L966.3,1013.4 L927.3,957.7 Z" fill="#402024" stroke="none" stroke-width="0"/>
<path d="M924.6,959.3 L953.3,1020.9 L924.5,1028.7 L918.6,960.9 Z" fill="#8e4a4e" stroke="none" stroke-width="0"/>
<path d="M915.4,960.9 L909.5,1028.7 L880.7,1020.9 L909.4,959.3 Z" fill="#6a3438" stroke="none" stroke-width="0"/>
<path d="M906.7,957.7 L867.7,1013.4 L846.6,992.3 L902.3,953.3 Z" fill="#a65a5e" stroke="none" stroke-width="0"/>
<path d="M900.7,950.6 L839.1,979.3 L831.3,950.5 L899.1,944.6 Z" fill="#3a1c22" stroke="none" stroke-width="0"/>
<path d="M899.1,941.4 L831.3,935.5 L839.1,906.7 L900.7,935.4 Z" fill="#8a4448" stroke="none" stroke-width="0"/>
<path d="M902.3,932.7 L846.6,893.7 L867.7,872.6 L906.7,928.3 Z" fill="#5a2a2e" stroke="none" stroke-width="0"/>
<path d="M909.4,926.7 L880.7,865.1 L909.5,857.3 L915.4,925.1 Z" fill="#b26266" stroke="none" stroke-width="0"/>
<circle cx="936.1" cy="896.8" r="4" fill="#ddd" stroke="#555" stroke-width="1"/><circle cx="963.2" cy="923.9" r="4" fill="#ddd" stroke="#555" stroke-width="1"/><circle cx="963.2" cy="962.1" r="4" fill="#ddd" stroke="#555" stroke-width="1"/><circle cx="936.1" cy="989.2" r="4" fill="#ddd" stroke="#555" stroke-width="1"/><circle cx="897.9" cy="989.2" r="4" fill="#ddd" stroke="#555" stroke-width="1"/><circle cx="870.8" cy="962.1" r="4" fill="#ddd" stroke="#555" stroke-width="1"/><circle cx="870.8" cy="923.9" r="4" fill="#ddd" stroke="#555" stroke-width="1"/><circle cx="897.9" cy="896.8" r="4" fill="#ddd" stroke="#555" stroke-width="1"/>
<line x1="917.0" y1="843.0" x2="917.0" y2="1045.0" stroke="#111" stroke-width="1.1"/>
<line x1="815.0" y1="943.0" x2="1020.0" y2="943.0" stroke="#111" stroke-width="1.1"/>
<line x1="857.9" y1="874.1" x2="978.6" y2="1008.3" stroke="#111" stroke-width="2.0"/>
<path d="M978.6,1008.3 L965.5,998.6 L970.3,999.0 L970.3,994.2 Z" fill="#111"/>
<path d="M857.9,874.1 L871.0,883.8 L866.2,883.4 L866.2,888.2 Z" fill="#111"/>
<line x1="963.8" y1="866.7" x2="871.5" y2="1020.6" stroke="#111" stroke-width="2.0"/>
<path d="M871.5,1020.6 L876.9,1005.2 L877.9,1009.9 L882.5,1008.6 Z" fill="#111"/>
<path d="M963.8,866.7 L958.4,882.1 L957.4,877.4 L952.8,878.7 Z" fill="#111"/>
<line x1="845.6" y1="900.0" x2="991.0" y2="986.2" stroke="#111" stroke-width="2.0"/>
<path d="M991.0,986.2 L975.6,980.8 L980.3,979.8 L978.9,975.2 Z" fill="#111"/>
<path d="M845.6,900.0 L861.0,905.4 L856.3,906.4 L857.7,911.0 Z" fill="#111"/>
<text x="941.7" y="822.4" font-size="25" font-weight="bold" fill="#111" textLength="115.7" lengthAdjust="spacingAndGlyphs" style="white-space:pre">12отв.Ø12</text>
<line x1="936.7" y1="823.6" x2="1062.3" y2="823.6" stroke="#111" stroke-width="1.1"/>
<line x1="936.7" y1="824.3" x2="907.2" y2="860.5" stroke="#111" stroke-width="2.0"/>
<path d="M907.2,860.5 L914.8,846.0 L915.1,850.8 L919.8,850.1 Z" fill="#111"/>
<text x="753" y="879" font-size="25" font-weight="bold" fill="#111" textLength="59" lengthAdjust="spacingAndGlyphs" style="white-space:pre">Ø660</text>
<line x1="751.5" y1="881.5" x2="813.6" y2="881.5" stroke="#111" stroke-width="1.1"/>
<line x1="813.6" y1="882.7" x2="845.6" y2="900.0" stroke="#111" stroke-width="1.1"/>
<text x="792.7" y="1039" font-size="25" font-weight="bold" fill="#111" textLength="60.3" lengthAdjust="spacingAndGlyphs" style="white-space:pre">Ø702</text>
<line x1="792.7" y1="1042.0" x2="853.0" y2="1042.0" stroke="#111" stroke-width="1.1"/>
<line x1="853.0" y1="1042.3" x2="871.5" y2="1020.6" stroke="#111" stroke-width="1.1"/>
<text x="1002" y="1031.7" font-size="25" font-weight="bold" fill="#111" textLength="60" lengthAdjust="spacingAndGlyphs" style="white-space:pre">Ø732</text>
<line x1="1002.0" y1="1037.9" x2="1064.8" y2="1037.9" stroke="#111" stroke-width="1.1"/>
<line x1="1002.0" y1="1037.9" x2="978.6" y2="1008.3" stroke="#111" stroke-width="1.1"/>
<text x="0" y="0" font-size="45" font-weight="bold" text-anchor="middle" fill="#f2f2f2" fill-opacity="0.5" stroke="#8a8a8a" stroke-opacity="0.3" stroke-width="1" textLength="210" lengthAdjust="spacingAndGlyphs" transform="translate(918.3,952.9) rotate(0)">ukrvent.ua</text>
<text x="1323.2" y="767" font-size="29" font-weight="bold" fill="#111" text-anchor="middle" style="white-space:pre">Б</text>
<rect x="1253.0" y="845.8" width="138.0" height="178.5" fill="#c0c0c0" stroke="#444" stroke-width="1"/>
<rect x="1265.0" y="858.6" width="113.6" height="152.2" fill="#3d2a2c" stroke="none" stroke-width="1.5"/>
<rect x="1270.0" y="980.0" width="45.8" height="30.8" fill="#9c4c4e" stroke="none" stroke-width="1.5"/>
<path d="M1254.9,851.2h7M1258.4,847.7v7M1254.9,1018.7h7M1258.4,1015.2v7M1280.3,851.2h7M1283.8,847.7v7M1280.3,1018.7h7M1283.8,1015.2v7M1306.2,851.2h7M1309.7,847.7v7M1306.2,1018.7h7M1309.7,1015.2v7M1332.0,851.2h7M1335.5,847.7v7M1332.0,1018.7h7M1335.5,1015.2v7M1357.9,851.2h7M1361.4,847.7v7M1357.9,1018.7h7M1361.4,1015.2v7M1382.5,851.2h7M1386,847.7v7M1382.5,1018.7h7M1386,1015.2v7M1254.9,851.2h7M1258.4,847.7v7M1382.5,851.2h7M1386,847.7v7M1254.9,879h7M1258.4,875.5v7M1382.5,879h7M1386,875.5v7M1254.9,906.8h7M1258.4,903.3v7M1382.5,906.8h7M1386,903.3v7M1254.9,934.9h7M1258.4,931.4v7M1382.5,934.9h7M1386,931.4v7M1254.9,962.8h7M1258.4,959.3v7M1382.5,962.8h7M1386,959.3v7M1254.9,990.6h7M1258.4,987.1v7M1382.5,990.6h7M1386,987.1v7M1254.9,1018.7h7M1258.4,1015.2v7M1382.5,1018.7h7M1386,1015.2v7" stroke="#222" stroke-width="1"/>
<line x1="1322.0" y1="843.3" x2="1322.0" y2="1028.0" stroke="#111" stroke-width="1.1" stroke-dasharray="30,4,4,4"/>
<line x1="1248.0" y1="934.9" x2="1383.5" y2="934.9" stroke="#111" stroke-width="1.1" stroke-dasharray="30,4,4,4"/>
<text x="1271.5" y="797.7" font-size="25" font-weight="bold" fill="#111" textLength="120.5" lengthAdjust="spacingAndGlyphs" style="white-space:pre">28отв.Ø15</text>
<line x1="1270.2" y1="800.7" x2="1392.9" y2="800.7" stroke="#111" stroke-width="1.1"/>
<line x1="1392.9" y1="800.2" x2="1383.5" y2="882.7" stroke="#111" stroke-width="1.5"/>
<path d="M1386.0,858.0 L1385.3,843.8 L1387.4,847.2 L1390.2,844.4 Z" fill="#111"/>
<line x1="1265.0" y1="830.0" x2="1265.0" y2="858.0" stroke="#111" stroke-width="1.1"/>
<line x1="1380.0" y1="830.0" x2="1380.0" y2="858.0" stroke="#111" stroke-width="1.1"/>
<line x1="1265.0" y1="833.4" x2="1380.0" y2="833.4" stroke="#111" stroke-width="2.2"/>
<path d="M1380.0,833.4 L1361.0,837.4 L1365.2,833.4 L1361.0,829.4 Z" fill="#111"/>
<path d="M1265.0,833.4 L1284.0,829.4 L1279.8,833.4 L1284.0,837.4 Z" fill="#111"/>
<text x="1319.5" y="824.8" font-size="25" font-weight="bold" fill="#111" text-anchor="middle" style="white-space:pre">420</text>
<line x1="1168.0" y1="845.8" x2="1253.0" y2="845.8" stroke="#111" stroke-width="1.1"/>
<line x1="1168.0" y1="1024.3" x2="1253.0" y2="1024.3" stroke="#111" stroke-width="1.1"/>
<line x1="1200.0" y1="852.0" x2="1258.0" y2="852.0" stroke="#111" stroke-width="1.1"/>
<line x1="1200.0" y1="1017.7" x2="1258.0" y2="1017.7" stroke="#111" stroke-width="1.1"/>
<line x1="1173.7" y1="845.8" x2="1173.7" y2="1024.3" stroke="#111" stroke-width="2.2"/>
<path d="M1173.7,1024.3 L1169.7,1005.3 L1173.7,1009.5 L1177.7,1005.3 Z" fill="#111"/>
<path d="M1173.7,845.8 L1177.7,864.8 L1173.7,860.6 L1169.7,864.8 Z" fill="#111"/>
<line x1="1205.0" y1="852.0" x2="1205.0" y2="1017.7" stroke="#111" stroke-width="2.2"/>
<path d="M1205.0,1017.7 L1201.0,998.7 L1205.0,1002.9 L1209.0,998.7 Z" fill="#111"/>
<path d="M1205.0,852.0 L1209.0,871.0 L1205.0,866.8 L1201.0,871.0 Z" fill="#111"/>
<text x="0" y="0" font-size="25" font-weight="bold" fill="#111" text-anchor="middle" transform="translate(1169.5,932.0) rotate(-90)">658</text>
<text x="0" y="0" font-size="25" font-weight="bold" fill="#111" text-anchor="middle" textLength="113" lengthAdjust="spacingAndGlyphs" transform="translate(1201.7,935.7) rotate(-90)">102x6=612</text>
<line x1="1228.0" y1="989.8" x2="1258.0" y2="989.8" stroke="#111" stroke-width="1.1"/>
<line x1="1233.8" y1="928.3" x2="1233.8" y2="989.8" stroke="#111" stroke-width="2.2"/>
<path d="M1233.8,989.8 L1229.8,970.8 L1233.8,975.0 L1237.8,970.8 Z" fill="#111"/>
<line x1="1233.8" y1="1040.3" x2="1233.8" y2="1018.7" stroke="#111" stroke-width="2.2"/>
<path d="M1233.8,1018.7 L1237.8,1037.7 L1233.8,1033.5 L1229.8,1037.7 Z" fill="#111"/>
<text x="0" y="0" font-size="25" font-weight="bold" fill="#111" text-anchor="middle" transform="translate(1232.4,955.0) rotate(-90)">102</text>
<line x1="1380.0" y1="858.6" x2="1430.0" y2="858.6" stroke="#111" stroke-width="1.1"/>
<line x1="1380.0" y1="1010.8" x2="1430.0" y2="1010.8" stroke="#111" stroke-width="1.1"/>
<line x1="1424.0" y1="858.6" x2="1424.0" y2="1010.8" stroke="#111" stroke-width="2.2"/>
<path d="M1424.0,1010.8 L1420.0,991.8 L1424.0,996.0 L1428.0,991.8 Z" fill="#111"/>
<path d="M1424.0,858.6 L1428.0,877.6 L1424.0,873.4 L1420.0,877.6 Z" fill="#111"/>
<text x="0" y="0" font-size="25" font-weight="bold" fill="#111" text-anchor="middle" transform="translate(1420.9,939.0) rotate(-90)">560</text>
<line x1="1258.4" y1="1024.0" x2="1258.4" y2="1100.0" stroke="#111" stroke-width="1.1"/>
<line x1="1283.8" y1="1024.0" x2="1283.8" y2="1055.0" stroke="#111" stroke-width="1.1"/>
<line x1="1228.4" y1="1050.0" x2="1258.4" y2="1050.0" stroke="#111" stroke-width="2.2"/>
<path d="M1258.4,1050.0 L1239.4,1054.0 L1243.6,1050.0 L1239.4,1046.0 Z" fill="#111"/>
<line x1="1341.7" y1="1050.0" x2="1283.8" y2="1050.0" stroke="#111" stroke-width="2.2"/>
<path d="M1283.8,1050.0 L1302.8,1046.0 L1298.6,1050.0 L1302.8,1054.0 Z" fill="#111"/>
<text x="1322" y="1048" font-size="25" font-weight="bold" fill="#111" text-anchor="middle" style="white-space:pre">94</text>
<line x1="1386.0" y1="1024.0" x2="1386.0" y2="1085.0" stroke="#111" stroke-width="1.1"/>
<line x1="1392.2" y1="1024.0" x2="1392.2" y2="1125.0" stroke="#111" stroke-width="1.1"/>
<line x1="1253.0" y1="1024.0" x2="1253.0" y2="1125.0" stroke="#111" stroke-width="1.1"/>
<line x1="1258.4" y1="1079.8" x2="1386.0" y2="1079.8" stroke="#111" stroke-width="2.2"/>
<path d="M1386.0,1079.8 L1367.0,1083.8 L1371.2,1079.8 L1367.0,1075.8 Z" fill="#111"/>
<path d="M1258.4,1079.8 L1277.4,1075.8 L1273.2,1079.8 L1277.4,1083.8 Z" fill="#111"/>
<line x1="1386.0" y1="1079.8" x2="1504.2" y2="1079.8" stroke="#111" stroke-width="1.1"/>
<text x="1397" y="1074.3" font-size="25" fill="#111" textLength="109.7" lengthAdjust="spacingAndGlyphs" stroke="#111" stroke-width="0.55" style="white-space:pre">94x5=470</text>
<line x1="1253.0" y1="1118.0" x2="1392.2" y2="1118.0" stroke="#111" stroke-width="2.2"/>
<path d="M1392.2,1118.0 L1373.2,1122.0 L1377.4,1118.0 L1373.2,1114.0 Z" fill="#111"/>
<path d="M1253.0,1118.0 L1272.0,1114.0 L1267.8,1118.0 L1272.0,1122.0 Z" fill="#111"/>
<text x="1319.5" y="1105.6" font-size="25" font-weight="bold" fill="#111" text-anchor="middle" style="white-space:pre">510</text>
<text x="0" y="0" font-size="45" font-weight="bold" text-anchor="middle" fill="#f2f2f2" fill-opacity="0.5" stroke="#8a8a8a" stroke-opacity="0.3" stroke-width="1" textLength="211" lengthAdjust="spacingAndGlyphs" transform="translate(1328.7,946.7) rotate(0)">ukrvent.ua</text>
</g>
<g id="chart">
<path d="M308.0,1348.3V2011.3M324.6,1348.3V2011.3M340.2,1348.3V2011.3M354.9,1348.3V2011.3M368.8,1348.3V2011.3M382.0,1348.3V2011.3M406.5,1348.3V2011.3M428.9,1348.3V2011.3M449.5,1348.3V2011.3M468.5,1348.3V2011.3M486.2,1348.3V2011.3M502.8,1348.3V2011.3M518.4,1348.3V2011.3M533.1,1348.3V2011.3M547.0,1348.3V2011.3M560.2,1348.3V2011.3M572.8,1348.3V2011.3M584.7,1348.3V2011.3M596.1,1348.3V2011.3M607.1,1348.3V2011.3M617.6,1348.3V2011.3M627.7,1348.3V2011.3M637.4,1348.3V2011.3M646.7,1348.3V2011.3M655.7,1348.3V2011.3M664.5,1348.3V2011.3M681.0,1348.3V2011.3M696.6,1348.3V2011.3M711.3,1348.3V2011.3M725.2,1348.3V2011.3M738.4,1348.3V2011.3M751.0,1348.3V2011.3M762.9,1348.3V2011.3M774.4,1348.3V2011.3M785.3,1348.3V2011.3M795.8,1348.3V2011.3M820.3,1348.3V2011.3M842.7,1348.3V2011.3M290.5,1993.4H842.5M290.5,1977.3H842.5M290.5,1962.2H842.5M290.5,1948.0H842.5M290.5,1934.5H842.5M290.5,1921.7H842.5M290.5,1897.9H842.5M290.5,1876.3H842.5M290.5,1856.3H842.5M290.5,1837.8H842.5M290.5,1820.6H842.5M290.5,1804.6H842.5M290.5,1789.4H842.5M290.5,1775.2H842.5M290.5,1761.7H842.5M290.5,1748.9H842.5M290.5,1725.2H842.5M290.5,1703.5H842.5M290.5,1683.5H842.5M290.5,1665.1H842.5M290.5,1647.9H842.5M290.5,1631.8H842.5M290.5,1616.7H842.5M290.5,1602.4H842.5M290.5,1589.0H842.5M290.5,1576.2H842.5M290.5,1564.0H842.5M290.5,1552.4H842.5M290.5,1541.3H842.5M290.5,1530.7H842.5M290.5,1520.6H842.5M290.5,1510.8H842.5M290.5,1501.4H842.5M290.5,1492.3H842.5M290.5,1483.6H842.5M290.5,1475.1H842.5M290.5,1455.2H842.5M290.5,1436.7H842.5M290.5,1419.5H842.5M290.5,1403.4H842.5M290.5,1388.3H842.5M290.5,1374.1H842.5M290.5,1360.6H842.5M290.5,1347.8H842.5" stroke="#d6d6d6" stroke-width="1.6" fill="none"/>
<line x1="528.6" y1="1348.3" x2="310.5" y2="1777.6" stroke="#4f9c50" stroke-width="2.2"/>
<line x1="587.4" y1="1386.2" x2="369.6" y2="1813.7" stroke="#4f9c50" stroke-width="2.2"/>
<line x1="629.0" y1="1417.2" x2="411.2" y2="1846.0" stroke="#4f9c50" stroke-width="2.2"/>
<line x1="664.8" y1="1450.5" x2="446.3" y2="1878.3" stroke="#4f9c50" stroke-width="5.0"/>
<line x1="680.8" y1="1471.4" x2="462.9" y2="1898.6" stroke="#4f9c50" stroke-width="2.2"/>
<line x1="700.5" y1="1493.6" x2="483.2" y2="1922.7" stroke="#4f9c50" stroke-width="2.2"/>
<line x1="722.7" y1="1526.8" x2="505.4" y2="1956.8" stroke="#4f9c50" stroke-width="2.2"/>
<line x1="736.2" y1="1547.8" x2="519.2" y2="1969.8" stroke="#4f9c50" stroke-width="2.2"/>
<line x1="752.2" y1="1582.3" x2="533.0" y2="2011.0" stroke="#4f9c50" stroke-width="2.2"/>
<line x1="768.2" y1="1620.4" x2="570.0" y2="2011.0" stroke="#4f9c50" stroke-width="2.2"/>
<line x1="776.4" y1="1648.8" x2="592.3" y2="2011.0" stroke="#4f9c50" stroke-width="2.2"/>
<text x="0" y="0" font-size="19" font-weight="bold" fill="#4f9c50" text-anchor="middle" dominant-baseline="central" transform="translate(501.2,1373.9) rotate(-63)" stroke="#fff" stroke-width="3" paint-order="stroke">0,604</text>
<text x="0" y="0" font-size="19" font-weight="bold" fill="#4f9c50" text-anchor="middle" dominant-baseline="central" transform="translate(501.2,1373.9) rotate(-63)" stroke="#4f9c50" stroke-width="0.7">0,604</text>
<text x="0" y="0" font-size="19" font-weight="bold" fill="#4f9c50" text-anchor="middle" dominant-baseline="central" transform="translate(562.8,1405.9) rotate(-63)" stroke="#fff" stroke-width="3" paint-order="stroke">0,653</text>
<text x="0" y="0" font-size="19" font-weight="bold" fill="#4f9c50" text-anchor="middle" dominant-baseline="central" transform="translate(562.8,1405.9) rotate(-63)" stroke="#4f9c50" stroke-width="0.7">0,653</text>
<text x="0" y="0" font-size="19" font-weight="bold" fill="#4f9c50" text-anchor="middle" dominant-baseline="central" transform="translate(604.6,1437.9) rotate(-63)" stroke="#fff" stroke-width="3" paint-order="stroke">0,676</text>
<text x="0" y="0" font-size="19" font-weight="bold" fill="#4f9c50" text-anchor="middle" dominant-baseline="central" transform="translate(604.6,1437.9) rotate(-63)" stroke="#4f9c50" stroke-width="0.7">0,676</text>
<text x="0" y="0" font-size="19" font-weight="bold" fill="#4f9c50" text-anchor="middle" dominant-baseline="central" transform="translate(641.6,1465.0) rotate(-63)" stroke="#fff" stroke-width="3" paint-order="stroke">η=0,685</text>
<text x="0" y="0" font-size="19" font-weight="bold" fill="#4f9c50" text-anchor="middle" dominant-baseline="central" transform="translate(641.6,1465.0) rotate(-63)" stroke="#4f9c50" stroke-width="0.7">η=0,685</text>
<text x="0" y="0" font-size="17" font-weight="bold" fill="#4f9c50" text-anchor="middle" dominant-baseline="central" transform="translate(658.8,1489.7) rotate(-63)" stroke="#fff" stroke-width="3" paint-order="stroke">0,673</text>
<text x="0" y="0" font-size="17" font-weight="bold" fill="#4f9c50" text-anchor="middle" dominant-baseline="central" transform="translate(658.8,1489.7) rotate(-63)" stroke="#4f9c50" stroke-width="0.7">0,673</text>
<text x="0" y="0" font-size="17" font-weight="bold" fill="#4f9c50" text-anchor="middle" dominant-baseline="central" transform="translate(676.0,1511.8) rotate(-63)" stroke="#fff" stroke-width="3" paint-order="stroke">0,653</text>
<text x="0" y="0" font-size="17" font-weight="bold" fill="#4f9c50" text-anchor="middle" dominant-baseline="central" transform="translate(676.0,1511.8) rotate(-63)" stroke="#4f9c50" stroke-width="0.7">0,653</text>
<text x="0" y="0" font-size="14" font-weight="bold" fill="#4f9c50" text-anchor="middle" dominant-baseline="central" transform="translate(705.6,1551.2) rotate(-63)" stroke="#fff" stroke-width="3" paint-order="stroke">0,628</text>
<text x="0" y="0" font-size="14" font-weight="bold" fill="#4f9c50" text-anchor="middle" dominant-baseline="central" transform="translate(705.6,1551.2) rotate(-63)" stroke="#4f9c50" stroke-width="0.7">0,628</text>
<text x="0" y="0" font-size="14" font-weight="bold" fill="#4f9c50" text-anchor="middle" dominant-baseline="central" transform="translate(717.9,1578.3) rotate(-63)" stroke="#fff" stroke-width="3" paint-order="stroke">0,607</text>
<text x="0" y="0" font-size="14" font-weight="bold" fill="#4f9c50" text-anchor="middle" dominant-baseline="central" transform="translate(717.9,1578.3) rotate(-63)" stroke="#4f9c50" stroke-width="0.7">0,607</text>
<text x="0" y="0" font-size="14" font-weight="bold" fill="#4f9c50" text-anchor="middle" dominant-baseline="central" transform="translate(731.2,1603.0) rotate(-63)" stroke="#fff" stroke-width="3" paint-order="stroke">0,558</text>
<text x="0" y="0" font-size="14" font-weight="bold" fill="#4f9c50" text-anchor="middle" dominant-baseline="central" transform="translate(731.2,1603.0) rotate(-63)" stroke="#4f9c50" stroke-width="0.7">0,558</text>
<text x="0" y="0" font-size="14" font-weight="bold" fill="#4f9c50" text-anchor="middle" dominant-baseline="central" transform="translate(745.0,1640.0) rotate(-63)" stroke="#fff" stroke-width="3" paint-order="stroke">0,507</text>
<text x="0" y="0" font-size="14" font-weight="bold" fill="#4f9c50" text-anchor="middle" dominant-baseline="central" transform="translate(745.0,1640.0) rotate(-63)" stroke="#4f9c50" stroke-width="0.7">0,507</text>
<text x="0" y="0" font-size="14" font-weight="bold" fill="#4f9c50" text-anchor="middle" dominant-baseline="central" transform="translate(757.3,1667.0) rotate(-63)" stroke="#fff" stroke-width="3" paint-order="stroke">0,471</text>
<text x="0" y="0" font-size="14" font-weight="bold" fill="#4f9c50" text-anchor="middle" dominant-baseline="central" transform="translate(757.3,1667.0) rotate(-63)" stroke="#4f9c50" stroke-width="0.7">0,471</text>
<path d="M512.0,1425.9 A427.2,427.2 0 0 1 741.1,1717.7" stroke="#3f4f92" stroke-width="4.2" fill="none"/>
<path d="M477.6,1449.3 A451.8,451.8 0 0 1 722.7,1752.2" stroke="#3f4f92" stroke-width="4.2" fill="none"/>
<path d="M462.8,1478.3 A512.8,512.8 0 0 1 709.6,1779.5" stroke="#3f4f92" stroke-width="4.2" fill="none"/>
<path d="M444.3,1514.5 A478.3,478.3 0 0 1 690.8,1817.2" stroke="#3f4f92" stroke-width="4.2" fill="none"/>
<path d="M417.2,1568.7 A454.9,454.9 0 0 1 663.7,1870.0" stroke="#3f4f92" stroke-width="4.2" fill="none"/>
<path d="M403.7,1595.8 A496.0,496.0 0 0 1 649.0,1897.0" stroke="#3f4f92" stroke-width="4.2" fill="none"/>
<path d="M367.0,1631.0 A443.4,443.4 0 0 1 630.7,1932.5" stroke="#3f4f92" stroke-width="4.2" fill="none"/>
<path d="M359.4,1683.4 A541.0,541.0 0 0 1 604.6,1984.7" stroke="#3f4f92" stroke-width="4.2" fill="none"/>
<path d="M437.9,1525.6 C443.1,1526.3 457.6,1528.1 469.4,1529.6 C481.2,1531.1 495.7,1532.4 508.8,1534.5 C521.9,1536.6 535.1,1539.5 548.2,1542.4 C561.3,1545.4 576.1,1548.4 587.6,1552.2 C599.1,1556.0 607.4,1559.2 617.2,1565.0 C627.1,1570.8 638.5,1579.2 646.7,1586.7 C654.9,1594.2 659.9,1601.8 666.5,1610.3 C673.1,1618.8 679.6,1626.7 686.2,1637.9 C692.8,1649.1 700.6,1665.8 705.9,1677.3 C711.1,1688.8 714.1,1696.1 717.7,1706.9 C721.3,1717.8 725.9,1736.5 727.5,1742.4" stroke="#d8463f" stroke-width="7.5" fill="none"/>
<path d="M331.5,1734.7 C340.1,1735.6 367.3,1738.0 382.8,1739.9 C398.3,1741.8 410.7,1743.4 424.7,1746.2 C438.7,1749.0 452.7,1751.9 466.6,1756.6 C480.6,1761.3 496.2,1767.9 508.4,1774.4 C520.6,1780.9 529.3,1786.3 539.8,1795.4 C550.3,1804.5 562.6,1817.7 571.3,1828.9 C580.0,1840.1 585.9,1850.6 592.2,1862.4 C598.5,1874.2 604.0,1885.0 608.9,1900.0 C613.8,1915.0 619.4,1943.7 621.5,1952.4" stroke="#d8463f" stroke-width="7.5" fill="none"/>
<text x="0" y="0" font-size="132" font-weight="bold" fill="#c4c4c4" fill-opacity="0.6" transform="translate(405,1977) rotate(-55.3)" textLength="664" lengthAdjust="spacingAndGlyphs">ukrvent.ua</text>
<text x="493.6" y="1421.5" font-size="19.5" font-weight="bold" fill="#3f4f92" text-anchor="middle" textLength="46" lengthAdjust="spacingAndGlyphs" stroke="#fff" stroke-width="3" paint-order="stroke" style="white-space:pre">N=55</text>
<text x="459.3" y="1453.8" font-size="19.5" font-weight="bold" fill="#3f4f92" text-anchor="middle" stroke="#fff" stroke-width="3" paint-order="stroke" style="white-space:pre">45</text>
<text x="445.5" y="1481.8" font-size="19.5" font-weight="bold" fill="#3f4f92" text-anchor="middle" stroke="#fff" stroke-width="3" paint-order="stroke" style="white-space:pre">37</text>
<text x="427.8" y="1518.8" font-size="19.5" font-weight="bold" fill="#3f4f92" text-anchor="middle" stroke="#fff" stroke-width="3" paint-order="stroke" style="white-space:pre">30</text>
<text x="400.2" y="1573" font-size="19.5" font-weight="bold" fill="#3f4f92" text-anchor="middle" stroke="#fff" stroke-width="3" paint-order="stroke" style="white-space:pre">22</text>
<text x="381.5" y="1601.6" font-size="19.5" font-weight="bold" fill="#3f4f92" text-anchor="middle" stroke="#fff" stroke-width="3" paint-order="stroke" style="white-space:pre">18,5</text>
<text x="367.2" y="1636" font-size="19.5" font-weight="bold" fill="#3f4f92" text-anchor="middle" stroke="#fff" stroke-width="3" paint-order="stroke" style="white-space:pre">15</text>
<text x="343.5" y="1688.8" font-size="19.5" font-weight="bold" fill="#3f4f92" text-anchor="middle" stroke="#fff" stroke-width="3" paint-order="stroke" style="white-space:pre">11</text>
<text x="0" y="0" font-size="19" font-weight="bold" fill="#d8463f" text-anchor="middle" dominant-baseline="central" transform="translate(597.2,1546.3) rotate(16)" stroke="#fff" stroke-width="3" paint-order="stroke">n=1470</text>
<text x="0" y="0" font-size="19" font-weight="bold" fill="#d8463f" text-anchor="middle" dominant-baseline="central" transform="translate(498.7,1757.1) rotate(16)" stroke="#fff" stroke-width="3" paint-order="stroke">970</text>
<text x="732" y="1752.5" font-size="18.5" font-weight="bold" fill="#d8463f" stroke="#fff" stroke-width="3" paint-order="stroke" style="white-space:pre">U=86,2</text>
<text x="622" y="1962" font-size="18.5" font-weight="bold" fill="#d8463f" stroke="#fff" stroke-width="3" paint-order="stroke" style="white-space:pre">56,9</text>
<line x1="161.3" y1="1328" x2="161.3" y2="2013.3" stroke="#231f20" stroke-width="4.8"/>
<path d="M161.3,1303 L153.0,1332 L169.60000000000002,1332 Z" fill="#231f20"/>
<line x1="226.8" y1="1328" x2="226.8" y2="2013.3" stroke="#231f20" stroke-width="4.8"/>
<path d="M226.8,1302 L218.5,1331 L235.10000000000002,1331 Z" fill="#231f20"/>
<line x1="289.4" y1="1328" x2="289.4" y2="2013.3" stroke="#231f20" stroke-width="4.8"/>
<path d="M289.4,1301 L281.09999999999997,1330 L297.7,1330 Z" fill="#231f20"/>
<line x1="159" y1="2011.3" x2="848" y2="2011.3" stroke="#231f20" stroke-width="4.8"/>
<path d="M873,2011.3 L844,2003.0 L844,2019.6 Z" fill="#231f20"/>
<text x="153.3" y="1358.7" font-size="19.8" font-weight="bold" fill="#3f4f92" text-anchor="end" style="white-space:pre">6000</text>
<text x="153.3" y="1405.5" font-size="19.8" font-weight="bold" fill="#3f4f92" text-anchor="end" style="white-space:pre">5000</text>
<text x="153.3" y="1461.0" font-size="19.8" font-weight="bold" fill="#3f4f92" text-anchor="end" style="white-space:pre">4000</text>
<text x="153.3" y="1495.7" font-size="19.8" font-weight="bold" fill="#3f4f92" text-anchor="end" style="white-space:pre">3500</text>
<text x="153.3" y="1534.6" font-size="19.8" font-weight="bold" fill="#3f4f92" text-anchor="end" style="white-space:pre">3000</text>
<text x="153.3" y="1579.4" font-size="19.8" font-weight="bold" fill="#3f4f92" text-anchor="end" style="white-space:pre">2500</text>
<text x="153.3" y="1633.0" font-size="19.8" font-weight="bold" fill="#3f4f92" text-anchor="end" style="white-space:pre">2000</text>
<text x="153.3" y="1665.0" font-size="19.8" font-weight="bold" fill="#3f4f92" text-anchor="end" style="white-space:pre">1800</text>
<text x="153.3" y="1691.0" font-size="19.8" font-weight="bold" fill="#3f4f92" text-anchor="end" style="white-space:pre">1600</text>
<text x="153.3" y="1724.7" font-size="19.8" font-weight="bold" fill="#3f4f92" text-anchor="end" style="white-space:pre">1400</text>
<text x="153.3" y="1765.0" font-size="19.8" font-weight="bold" fill="#3f4f92" text-anchor="end" style="white-space:pre">1200</text>
<text x="153.3" y="1809.5" font-size="19.8" font-weight="bold" fill="#3f4f92" text-anchor="end" style="white-space:pre">1000</text>
<text x="153.3" y="1835.6" font-size="19.8" font-weight="bold" fill="#3f4f92" text-anchor="end" style="white-space:pre">900</text>
<text x="153.3" y="1866.0" font-size="19.8" font-weight="bold" fill="#3f4f92" text-anchor="end" style="white-space:pre">800</text>
<text x="153.3" y="1898.0" font-size="19.8" font-weight="bold" fill="#3f4f92" text-anchor="end" style="white-space:pre">700</text>
<text x="153.3" y="1935.0" font-size="19.8" font-weight="bold" fill="#3f4f92" text-anchor="end" style="white-space:pre">600</text>
<text x="153.3" y="1980.0" font-size="19.8" font-weight="bold" fill="#3f4f92" text-anchor="end" style="white-space:pre">500</text>
<text x="218.3" y="1382.0" font-size="19.8" font-weight="bold" fill="#3f4f92" text-anchor="end" style="white-space:pre">7000</text>
<text x="218.3" y="1419.0" font-size="19.8" font-weight="bold" fill="#3f4f92" text-anchor="end" style="white-space:pre">6000</text>
<text x="218.3" y="1465.6" font-size="19.8" font-weight="bold" fill="#3f4f92" text-anchor="end" style="white-space:pre">5000</text>
<text x="218.3" y="1522.0" font-size="19.8" font-weight="bold" fill="#3f4f92" text-anchor="end" style="white-space:pre">4000</text>
<text x="218.3" y="1555.8" font-size="19.8" font-weight="bold" fill="#3f4f92" text-anchor="end" style="white-space:pre">3500</text>
<text x="218.3" y="1591.7" font-size="19.8" font-weight="bold" fill="#3f4f92" text-anchor="end" style="white-space:pre">3000</text>
<text x="218.3" y="1641.0" font-size="19.8" font-weight="bold" fill="#3f4f92" text-anchor="end" style="white-space:pre">2500</text>
<text x="218.3" y="1694.7" font-size="19.8" font-weight="bold" fill="#3f4f92" text-anchor="end" style="white-space:pre">2000</text>
<text x="218.3" y="1723.0" font-size="19.8" font-weight="bold" fill="#3f4f92" text-anchor="end" style="white-space:pre">1800</text>
<text x="218.3" y="1751.8" font-size="19.8" font-weight="bold" fill="#3f4f92" text-anchor="end" style="white-space:pre">1600</text>
<text x="218.3" y="1792.0" font-size="19.8" font-weight="bold" fill="#3f4f92" text-anchor="end" style="white-space:pre">1400</text>
<text x="218.3" y="1824.0" font-size="19.8" font-weight="bold" fill="#3f4f92" text-anchor="end" style="white-space:pre">1200</text>
<text x="218.3" y="1868.6" font-size="19.8" font-weight="bold" fill="#3f4f92" text-anchor="end" style="white-space:pre">1000</text>
<text x="218.3" y="1893.0" font-size="19.8" font-weight="bold" fill="#3f4f92" text-anchor="end" style="white-space:pre">900</text>
<text x="218.3" y="1925.0" font-size="19.8" font-weight="bold" fill="#3f4f92" text-anchor="end" style="white-space:pre">800</text>
<text x="218.3" y="1959.0" font-size="19.8" font-weight="bold" fill="#3f4f92" text-anchor="end" style="white-space:pre">700</text>
<text x="218.3" y="1997.6" font-size="19.8" font-weight="bold" fill="#3f4f92" text-anchor="end" style="white-space:pre">600</text>
<text x="284.3" y="1354.8" font-size="19.8" font-weight="bold" fill="#3f4f92" text-anchor="end" style="white-space:pre">10000</text>
<text x="284.3" y="1380.0" font-size="19.8" font-weight="bold" fill="#3f4f92" text-anchor="end" style="white-space:pre">9000</text>
<text x="284.3" y="1412.0" font-size="19.8" font-weight="bold" fill="#3f4f92" text-anchor="end" style="white-space:pre">8000</text>
<text x="284.3" y="1442.5" font-size="19.8" font-weight="bold" fill="#3f4f92" text-anchor="end" style="white-space:pre">7000</text>
<text x="284.3" y="1482.0" font-size="19.8" font-weight="bold" fill="#3f4f92" text-anchor="end" style="white-space:pre">6000</text>
<text x="284.3" y="1527.0" font-size="19.8" font-weight="bold" fill="#3f4f92" text-anchor="end" style="white-space:pre">5000</text>
<text x="284.3" y="1583.8" font-size="19.8" font-weight="bold" fill="#3f4f92" text-anchor="end" style="white-space:pre">4000</text>
<text x="284.3" y="1624.7" font-size="19.8" font-weight="bold" fill="#3f4f92" text-anchor="end" style="white-space:pre">3400</text>
<text x="284.3" y="1656.8" font-size="19.8" font-weight="bold" fill="#3f4f92" text-anchor="end" style="white-space:pre">3000</text>
<text x="284.3" y="1711.0" font-size="19.8" font-weight="bold" fill="#3f4f92" text-anchor="end" style="white-space:pre">2400</text>
<text x="284.3" y="1754.5" font-size="19.8" font-weight="bold" fill="#3f4f92" text-anchor="end" style="white-space:pre">2000</text>
<text x="284.3" y="1783.0" font-size="19.8" font-weight="bold" fill="#3f4f92" text-anchor="end" style="white-space:pre">1800</text>
<text x="284.3" y="1812.0" font-size="19.8" font-weight="bold" fill="#3f4f92" text-anchor="end" style="white-space:pre">1600</text>
<text x="284.3" y="1845.0" font-size="19.8" font-weight="bold" fill="#3f4f92" text-anchor="end" style="white-space:pre">1400</text>
<text x="284.3" y="1884.8" font-size="19.8" font-weight="bold" fill="#3f4f92" text-anchor="end" style="white-space:pre">1200</text>
<text x="284.3" y="1928.7" font-size="19.8" font-weight="bold" fill="#3f4f92" text-anchor="end" style="white-space:pre">1000</text>
<text x="284.3" y="1956.8" font-size="19.8" font-weight="bold" fill="#3f4f92" text-anchor="end" style="white-space:pre">900</text>
<text x="284.3" y="1985.0" font-size="19.8" font-weight="bold" fill="#3f4f92" text-anchor="end" style="white-space:pre">800</text>
<path d="M152.5,1351.7H161.3M152.5,1398.5H161.3M152.5,1454H161.3M152.5,1488.7H161.3M152.5,1527.6H161.3M152.5,1572.4H161.3M152.5,1626H161.3M152.5,1658H161.3M152.5,1684H161.3M152.5,1717.7H161.3M152.5,1758H161.3M152.5,1802.5H161.3M152.5,1828.6H161.3M152.5,1859H161.3M152.5,1891H161.3M152.5,1928H161.3M152.5,1973H161.3M217.5,1375H226.8M217.5,1412H226.8M217.5,1458.6H226.8M217.5,1515H226.8M217.5,1548.8H226.8M217.5,1584.7H226.8M217.5,1634H226.8M217.5,1687.7H226.8M217.5,1716H226.8M217.5,1744.8H226.8M217.5,1785H226.8M217.5,1817H226.8M217.5,1861.6H226.8M217.5,1886H226.8M217.5,1918H226.8M217.5,1952H226.8M217.5,1990.6H226.8M283.5,1347.8H289.4M283.5,1373H289.4M283.5,1405H289.4M283.5,1435.5H289.4M283.5,1475H289.4M283.5,1520H289.4M283.5,1576.8H289.4M283.5,1617.7H289.4M283.5,1649.8H289.4M283.5,1704H289.4M283.5,1747.5H289.4M283.5,1776H289.4M283.5,1805H289.4M283.5,1838H289.4M283.5,1877.8H289.4M283.5,1921.7H289.4M283.5,1949.8H289.4M283.5,1978H289.4" stroke="#231f20" stroke-width="2.6"/>
<text x="168.7" y="2033.5" font-size="18.7" font-weight="bold" fill="#3f4f92" text-anchor="middle" style="white-space:pre">200°C</text>
<text x="230" y="2033.5" font-size="18.7" font-weight="bold" fill="#3f4f92" text-anchor="middle" style="white-space:pre">100°C</text>
<text x="287" y="2033.5" font-size="18.7" font-weight="bold" fill="#3f4f92" text-anchor="middle" style="white-space:pre">20°C</text>
<text x="324.8" y="2033.5" font-size="18.7" font-weight="bold" fill="#3f4f92" text-anchor="middle" style="white-space:pre">8</text>
<text x="354" y="2033.5" font-size="18.7" font-weight="bold" fill="#3f4f92" text-anchor="middle" style="white-space:pre">9</text>
<text x="384.4" y="2033.5" font-size="18.7" font-weight="bold" fill="#3f4f92" text-anchor="middle" style="white-space:pre">10</text>
<text x="429.8" y="2033.5" font-size="18.7" font-weight="bold" fill="#3f4f92" text-anchor="middle" style="white-space:pre">12</text>
<text x="469" y="2033.5" font-size="18.7" font-weight="bold" fill="#3f4f92" text-anchor="middle" style="white-space:pre">14</text>
<text x="504.6" y="2033.5" font-size="18.7" font-weight="bold" fill="#3f4f92" text-anchor="middle" style="white-space:pre">16</text>
<text x="534" y="2033.5" font-size="18.7" font-weight="bold" fill="#3f4f92" text-anchor="middle" style="white-space:pre">18</text>
<text x="561" y="2033.5" font-size="18.7" font-weight="bold" fill="#3f4f92" text-anchor="middle" style="white-space:pre">20</text>
<text x="618.4" y="2033.5" font-size="18.7" font-weight="bold" fill="#3f4f92" text-anchor="middle" style="white-space:pre">25</text>
<text x="665" y="2033.5" font-size="18.7" font-weight="bold" fill="#3f4f92" text-anchor="middle" style="white-space:pre">30</text>
<text x="740" y="2033.5" font-size="18.7" font-weight="bold" fill="#3f4f92" text-anchor="middle" style="white-space:pre">40</text>
<text x="795" y="2033.5" font-size="18.7" font-weight="bold" fill="#3f4f92" text-anchor="middle" style="white-space:pre">50</text>
<text x="705.6" y="2064" font-size="25.5" font-weight="bold" fill="#3f4f92" textLength="170" lengthAdjust="spacingAndGlyphs" style="white-space:pre">Q, 10<tspan dy='-8' font-size='13'>3</tspan><tspan dy='8'>·м</tspan><tspan dy='-8' font-size='13'>3</tspan><tspan dy='8'>/год</tspan></text>
<text x="173" y="1293.5" font-size="26" font-weight="bold" fill="#3f4f92" textLength="76" lengthAdjust="spacingAndGlyphs" style="white-space:pre">P<tspan dy='5' font-size='14'>v</tspan><tspan dy='-5'>, Па</tspan></text>
<g><ellipse cx="376" cy="1401" rx="77" ry="49.8" fill="#fff" stroke="#3f4f92" stroke-width="5"/>
<rect x="318.6" y="1386.3" width="7" height="24.8" fill="#3f4f92"/>
<path d="M325.6,1393 H334 L348.7,1389.5 L363.3,1375.5 H395 L402.6,1387.5 H430.6 V1411.5 H402.6 L395,1423.5 H363.3 L348.7,1409.5 L334,1405 H325.6 Z" fill="none" stroke="#3f4f92" stroke-width="3.6" stroke-linejoin="miter"/>
<path d="M334,1393 V1405 M348.7,1389.5 V1409.5" stroke="#3f4f92" stroke-width="2.5"/>
<path d="M367,1376 V1423 M375,1376 V1423 M385,1376 V1423 M391,1376 V1423" stroke="#3f4f92" stroke-width="3"/>
<rect x="405" y="1389.5" width="23" height="19.5" fill="#3f4f92"/>
<path d="M422,1393 A7,7 0 1 0 421,1405" fill="none" stroke="#fff" stroke-width="2.2"/>
<path id="arcTop" d="M317,1397 C327,1355 425,1350 437,1397" fill="none"/>
<text font-size="13.5" font-weight="bold" fill="#3f4f92" letter-spacing="-0.3"><textPath href="#arcTop" startOffset="50%" text-anchor="middle">Вентилятор ВДН-11,2</textPath></text>
<path id="arcBot" d="M328,1416 C345,1440 408,1440 426,1414" fill="none"/>
<text font-size="10.5" font-weight="bold" fill="#3f4f92"><textPath href="#arcBot" startOffset="50%" text-anchor="middle">лабораторія заводу</textPath></text>
<path id="arcBot2" d="M320,1428 C338,1457 416,1457 436,1426" fill="none"/>
<text font-size="13" font-weight="bold" fill="#3f4f92" letter-spacing="-0.4"><textPath href="#arcBot2" startOffset="50%" text-anchor="middle">УКРВЕНТСИСТЕМИ</textPath></text>
</g>
</g>
<text x="429.6" y="134.6" font-size="66.7" font-weight="bold" fill="#d8463f" textLength="796" lengthAdjust="spacingAndGlyphs" stroke="#d8463f" stroke-width="0.8" style="white-space:pre">Вентилятор  ВДН №11,2</text>
<text x="321.6" y="179.7" font-size="34.6" font-weight="bold" fill="#262626" textLength="1006.7" lengthAdjust="spacingAndGlyphs" stroke="#262626" stroke-width="0.7" style="white-space:pre">Кут розвороту корпусу Правий 45°, виконання 3, без двигуна</text>
<text x="108.8" y="1141.5" font-size="22.7" fill="#262626" textLength="658.9" lengthAdjust="spacingAndGlyphs" stroke="#262626" stroke-width="0.5" style="white-space:pre">* Розмір уточнюється при комплектації електродвигуном</text>
<text x="193.6" y="1202.6" font-size="45.4" font-weight="bold" fill="#d8463f" textLength="1268.1" lengthAdjust="spacingAndGlyphs" stroke="#d8463f" stroke-width="0.6" style="white-space:pre">Зведена аеродинамічна характеристика ВДН №11,2 вик.3</text>
<text x="130" y="1238.9" font-size="31" font-weight="bold" fill="#262626" textLength="1394.4" lengthAdjust="spacingAndGlyphs" stroke="#262626" stroke-width="0.6" style="white-space:pre">при температурі середовища, що переміщується 20°С і барометричному тиску 760 мм.рт.ст.</text>
<text x="900" y="1305.5" font-size="24.5" fill="#1e1e1e" textLength="259.6" lengthAdjust="spacingAndGlyphs" stroke="#1e1e1e" stroke-width="0.7" style="white-space:pre">PV - повний тиск, Па;</text>
<text x="900" y="1336.1" font-size="24.5" fill="#1e1e1e" textLength="498" lengthAdjust="spacingAndGlyphs" stroke="#1e1e1e" stroke-width="0.7" style="white-space:pre">Q - продуктивність повітрям, тис. м<tspan dy='-9' font-size='14'>3</tspan><tspan dy='9'>/год;</tspan></text>
<text x="900" y="1366.7" font-size="24.5" fill="#1e1e1e" textLength="486.6" lengthAdjust="spacingAndGlyphs" stroke="#1e1e1e" stroke-width="0.7" style="white-space:pre">N - споживана потужність двигуна, кВт;</text>
<text x="900" y="1397.3" font-size="24.5" fill="#1e1e1e" textLength="419.6" lengthAdjust="spacingAndGlyphs" stroke="#1e1e1e" stroke-width="0.7" style="white-space:pre">U-окружна швидкість колеса, м/с;</text>
<text x="900" y="1427.9" font-size="24.5" fill="#1e1e1e" textLength="570.4" lengthAdjust="spacingAndGlyphs" stroke="#1e1e1e" stroke-width="0.7" style="white-space:pre">n - частота обертання робочого колеса, об/хв;</text>
<text x="900" y="1458.5" font-size="24.5" fill="#1e1e1e" textLength="390.3" lengthAdjust="spacingAndGlyphs" stroke="#1e1e1e" stroke-width="0.7" style="white-space:pre">η-коефіцієнт корисної дії (ККД).</text>
<text x="98.5" y="2187.7" font-size="28" fill="#262626" textLength="261" lengthAdjust="spacingAndGlyphs" stroke="#262626" stroke-width="0.5" style="white-space:pre">УКРВЕНТСИСТЕМИ</text>
<text x="98.5" y="2218.5" font-size="28" fill="#262626" textLength="193" lengthAdjust="spacingAndGlyphs" stroke="#262626" stroke-width="0.5" style="white-space:pre">сайт:ukrvent.ua</text>
<text x="98.5" y="2249.3" font-size="28" fill="#262626" textLength="324" lengthAdjust="spacingAndGlyphs" stroke="#262626" stroke-width="0.5" style="white-space:pre">E-mail: zavod@ukrvent.ua</text>
<text x="1571.6" y="2187.7" font-size="28" fill="#262626" text-anchor="end" textLength="195" lengthAdjust="spacingAndGlyphs" stroke="#262626" stroke-width="0.5" style="white-space:pre">Відділ продажу</text>
<text x="1571.6" y="2218.5" font-size="28" fill="#262626" text-anchor="end" textLength="394.6" lengthAdjust="spacingAndGlyphs" stroke="#262626" stroke-width="0.5" style="white-space:pre">+38 (097) 699-14-81 - Київстар;</text>
<text x="1571.6" y="2249.3" font-size="28" fill="#262626" text-anchor="end" textLength="467.8" lengthAdjust="spacingAndGlyphs" stroke="#262626" stroke-width="0.5" style="white-space:pre">+38 (099) 199-69-06 - Vodofon (Viber)</text>
</svg>
</body></html>
